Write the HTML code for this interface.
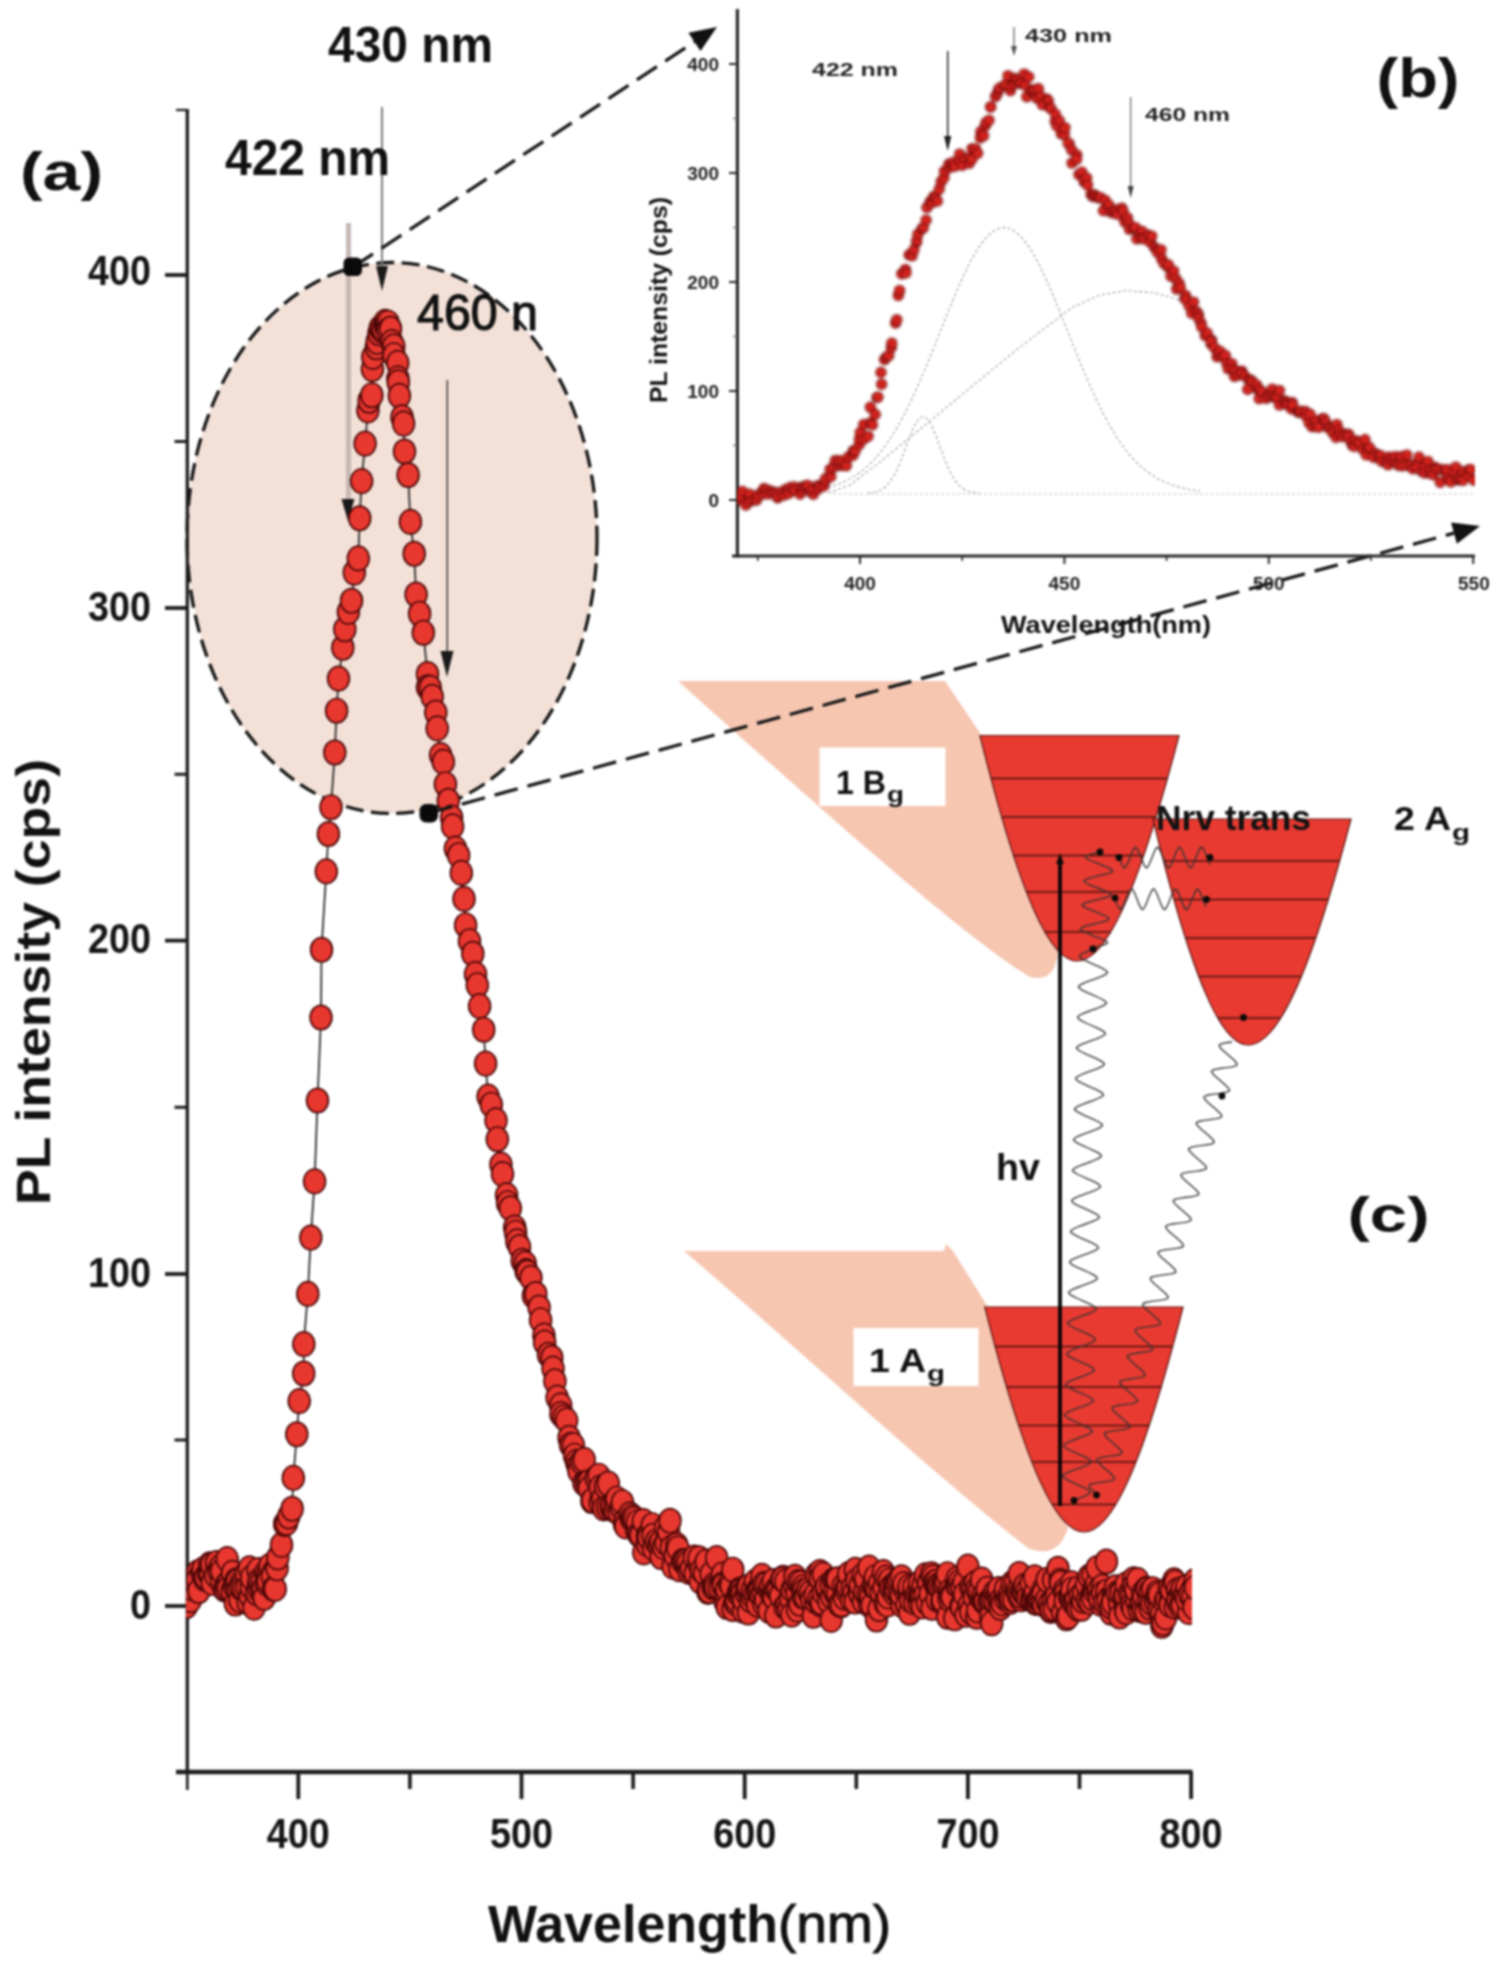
<!DOCTYPE html>
<html lang="en"><head><meta charset="utf-8"><title>PL spectrum figure</title>
<style>html,body{margin:0;padding:0;background:#fff}body{width:1499px;height:1969px;overflow:hidden}svg{display:block;filter:blur(0.9px)}text{font-family:"Liberation Sans",sans-serif;fill:#111}.b{font-weight:bold}.dv{font-family:"DejaVu Sans","Liberation Sans",sans-serif;font-weight:bold}.tk{font-size:42.5px;font-weight:bold;fill:#151515}.it{font-size:19px;font-weight:bold;fill:#222}</style></head><body>
<svg width="1499" height="1969" viewBox="0 0 1499 1969">
<defs><ellipse id="m" rx="10.9" ry="12.2" fill="#e8372f" stroke="#4a0707" stroke-width="1.7"/><circle id="s" r="5.0" fill="#d4231e" stroke="#6a0b0b" stroke-width="1.2"/><clipPath id="cm"><rect x="186" y="0" width="1006" height="1772"/></clipPath><filter id="bl" x="-5%" y="-5%" width="110%" height="110%"><feGaussianBlur stdDeviation="0.9"/></filter><clipPath id="ci"><rect x="737" y="0" width="738" height="556"/></clipPath></defs>
<rect width="1499" height="1969" fill="#fff"/>
<ellipse cx="392" cy="538" rx="205" ry="275.5" fill="#f3e1d8" stroke="#141414" stroke-width="3.3" stroke-dasharray="18 7.5"/>
<path d="M678,681 L945,681 L986,742 L1004,810 L1032,885 L1058,945 Q1058,984 1030,977 C960,935 800,790 678,681 Z" fill="#f6c6b1"/>
<path d="M684,1251 L944,1251 L946,1244 L953,1251 L991,1312 L1010,1395 L1040,1475 L1068,1528 Q1058,1560 1028,1548 C940,1480 800,1350 684,1251 Z" fill="#f6c6b1"/>
<g stroke="#1c1c1c" fill="none">
<line x1="187.3" y1="109" x2="187.3" y2="1774" stroke-width="3.3"/>
<line x1="176" y1="1772" x2="1192.5" y2="1772" stroke-width="4.6"/>
<line x1="176" y1="110" x2="187" y2="110" stroke-width="2.2"/>
<line x1="165" y1="275" x2="187" y2="275" stroke-width="3.8"/>
<line x1="165" y1="608" x2="187" y2="608" stroke-width="3.8"/>
<line x1="165" y1="940.6" x2="187" y2="940.6" stroke-width="3.8"/>
<line x1="165" y1="1274" x2="187" y2="1274" stroke-width="3.8"/>
<line x1="165" y1="1606" x2="187" y2="1606" stroke-width="3.8"/>
<line x1="174.5" y1="441.5" x2="187" y2="441.5" stroke-width="3"/>
<line x1="174.5" y1="774.3" x2="187" y2="774.3" stroke-width="3"/>
<line x1="174.5" y1="1107.3" x2="187" y2="1107.3" stroke-width="3"/>
<line x1="174.5" y1="1440" x2="187" y2="1440" stroke-width="3"/>
<line x1="298.3" y1="1772" x2="298.3" y2="1799" stroke-width="3.8"/>
<line x1="521.5" y1="1772" x2="521.5" y2="1799" stroke-width="3.8"/>
<line x1="744.7" y1="1772" x2="744.7" y2="1799" stroke-width="3.8"/>
<line x1="967.9" y1="1772" x2="967.9" y2="1799" stroke-width="3.8"/>
<line x1="1191.1" y1="1772" x2="1191.1" y2="1799" stroke-width="3.8"/>
<line x1="187.3" y1="1772" x2="187.3" y2="1790" stroke-width="2.6"/>
<line x1="409.9" y1="1772" x2="409.9" y2="1789" stroke-width="3.6"/>
<line x1="633.1" y1="1772" x2="633.1" y2="1789" stroke-width="3.6"/>
<line x1="856.3" y1="1772" x2="856.3" y2="1789" stroke-width="3.6"/>
<line x1="1079.5" y1="1772" x2="1079.5" y2="1789" stroke-width="3.6"/>
</g>
<text class="tk" x="88" y="284.5" textLength="63" lengthAdjust="spacingAndGlyphs">400</text>
<text class="tk" x="88" y="620.5" textLength="63" lengthAdjust="spacingAndGlyphs">300</text>
<text class="tk" x="88" y="952.5" textLength="63" lengthAdjust="spacingAndGlyphs">200</text>
<text class="tk" x="88" y="1286.5" textLength="63" lengthAdjust="spacingAndGlyphs">100</text>
<text class="tk" x="130" y="1618.5" textLength="21" lengthAdjust="spacingAndGlyphs">0</text>
<text class="tk" x="266.8" y="1847.5" textLength="63" lengthAdjust="spacingAndGlyphs">400</text>
<text class="tk" x="490" y="1847.5" textLength="63" lengthAdjust="spacingAndGlyphs">500</text>
<text class="tk" x="713.2" y="1847.5" textLength="63" lengthAdjust="spacingAndGlyphs">600</text>
<text class="tk" x="936.4" y="1847.5" textLength="63" lengthAdjust="spacingAndGlyphs">700</text>
<text class="tk" x="1159.6" y="1847.5" textLength="63" lengthAdjust="spacingAndGlyphs">800</text>
<text class="b" font-size="51" x="488" y="1942" textLength="290" lengthAdjust="spacingAndGlyphs">Wavelength</text>
<text font-size="51" x="778" y="1942" textLength="113" lengthAdjust="spacingAndGlyphs" stroke="#111" stroke-width="1">(nm)</text>
<text class="b" font-size="49" transform="translate(50,1205) rotate(-90)" textLength="446" lengthAdjust="spacingAndGlyphs">PL intensity (cps)</text>
<text class="b" font-size="54" x="20" y="190" textLength="83" lengthAdjust="spacingAndGlyphs">(a)</text>
<line x1="348.5" y1="223" x2="348.5" y2="505" stroke="#c6b8b4" stroke-width="5"/>
<path d="M341.5,499 L354.5,499 L348,521 Z" fill="#1a1a1a"/>
<line x1="382" y1="107" x2="382" y2="272" stroke="#7d7777" stroke-width="2"/>
<path d="M376,266 L388,266 L382,291 Z" fill="#1a1a1a"/>
<line x1="447.3" y1="380" x2="447.3" y2="655" stroke="#3c3636" stroke-width="1.5"/>
<path d="M440.5,651 L453.5,651 L447,677 Z" fill="#1a1a1a"/>
<g clip-path="url(#cm)">
<polyline fill="none" stroke="#222" stroke-width="1.7" points="186.4,1606 190.4,1600.1 191.5,1588.2 192.3,1579.4 194.7,1580.7 197.4,1572.6 197.3,1580.2 198.9,1591 201.9,1572.2 203,1569.6 204.8,1578.8 205.6,1576.9 208.7,1573.4 209.7,1564.4 210.5,1574.5 212.2,1582.9 211.8,1565.1 215.6,1575.1 216.6,1563 218.8,1570.4 220.7,1566.6 221.6,1582.3 221.7,1571.1 224.5,1589.4 224.8,1588.7 226.2,1585.3 227.2,1559.1 228.5,1582.5 228.1,1588.7 232.1,1591.2 232.5,1572.9 234.3,1585.7 236.1,1580.5 235.7,1582.4 235.4,1603.5 237.3,1581.5 238.2,1590 239.9,1600.1 241.5,1582.7 241,1587.7 244,1589.8 243.7,1588.8 246.3,1573.5 247.1,1588 248.1,1602.3 249.4,1568.4 250.2,1595.7 251.3,1586.8 251.6,1577.6 254.1,1607.6 256.7,1593 258,1570.1 258.6,1584.3 259.3,1589.7 259.3,1580.5 262.2,1590.2 262.1,1581.2 263.2,1589.3 264.2,1597.8 265.7,1573.1 266.4,1582.9 267.8,1574.9 268.2,1581.3 269.9,1565.8 273.2,1572.5 272.4,1576.5 273.5,1588.8 275.2,1588.9 277.1,1568.3 277.9,1557.5 281.5,1544.9 284.7,1524 286.5,1522.9 288.7,1516.5 292.1,1508.8 293.3,1477.9 296.8,1434.3 299.2,1401.1 303.7,1373.5 303.8,1344.1 307.8,1293.9 310.8,1237.6 314.6,1181.4 317.5,1100.5 321,1017.5 321.5,949.8 326.3,871.4 328.4,834 331,807.2 334.8,752.5 336.6,710.7 338.5,678.6 342.8,647.8 344.8,629.2 348.4,611.9 351.5,600.8 354.3,572.6 358.3,558.4 359.7,518.3 361.6,481.1 365.1,443.6 367.9,410.4 369.1,400.7 371.8,395.2 372.4,369.1 372.8,356.9 376.4,347.2 377.2,341.8 379,333.3 380.3,328 382.2,330.6 383.1,328.8 385.2,321.9 385.7,326 386.9,326.8 388,322.7 388,330.3 390.5,328.8 391.8,342.1 393.7,346.3 393.9,355.2 397.7,362.9 397.9,378.4 398.3,382.4 399.4,395.8 402,417.3 403.6,423.6 404.5,451.5 408.1,475 410.4,521.9 414.2,553.8 416.1,594.5 419.6,613.7 423.3,632.7 427.5,674 427.5,687.3 430.2,687.8 432.2,696.8 435.8,712.5 437.2,728.4 440.6,755.1 443.3,761.9 445.4,784.2 448.3,800.8 451.6,817.5 452.6,826.4 455.4,848.6 458.6,855.2 461.3,872.9 464,898.9 465.6,925.2 469.5,941.2 472.8,953.8 475.5,974.1 477.3,985.2 479.6,1006.1 483.7,1029.7 485.6,1063.6 488.1,1096.6 491.3,1104.7 496,1120.4 497.3,1139.2 500.9,1164.6 502.5,1174.1 506.6,1195.1 507.6,1203.2 510.3,1208.3 514.7,1227.5 515.6,1232.7 516.9,1241.4 519.5,1247 522.2,1260.8 525.2,1263.6 526.1,1271.1 527.4,1272.5 530.9,1277.8 533.4,1295.8 535.8,1294 539.1,1307.5 540.6,1320.2 543.9,1335.6 544.6,1342.5 548.5,1354.8 551.8,1357.8 553,1368.6 554.9,1381.3 557.1,1397.6 560.7,1405.4 560.9,1414 563.8,1417.2 566.6,1420.4 569.1,1437.8 570.5,1444.7 573.3,1445.2 574.6,1455.7 576.6,1461.9 578.1,1466.4 579,1471.2 581.6,1461.7 584,1483.3 584.2,1459.9 586.5,1482.8 588.9,1482.2 589.2,1488.6 591.9,1501 592.7,1500.2 596.1,1478 598.8,1475.7 600.2,1502.4 600.1,1487.6 602.6,1498.7 603.8,1508.4 605.5,1486.4 608.3,1483.5 607.7,1507.6 611.3,1507.2 612.2,1506 615,1510.3 615.7,1503.3 616.8,1498.7 619.2,1513.1 621.3,1507 622.4,1502.2 624.5,1524.2 625.4,1520.4 625.8,1526.4 629.9,1514.4 631.5,1518.7 632.7,1516.7 634.4,1518.9 636.8,1530.4 637.3,1522.2 638.8,1534.2 640.9,1535.2 643.8,1552.4 643.4,1521.1 647.2,1543.9 647.4,1535.8 648.7,1537.7 652.3,1525.2 652.9,1535.8 653.7,1548.4 656.1,1541.7 658.8,1544.5 660.8,1542.1 661.2,1557 663.5,1546.9 665.5,1527.4 666.1,1542.8 668.6,1531.8 670,1520.8 671.3,1547.8 673,1566.6 675.2,1555.5 676.8,1545.1 678,1548.4 679.9,1569.2 682.8,1561.1 683.8,1561.2 686,1561.4 688,1563.4 689.2,1571.8 692.2,1570.5 691.4,1568.4 694.4,1557.6 695.2,1573.5 698.7,1563.3 700.3,1581.3 699,1558.3 701.5,1570.3 704.5,1572.8 706.3,1561.6 708,1591.9 709,1590.9 711.2,1574 713,1587.2 714.1,1584.9 716.7,1558 715.8,1586.7 719.8,1585.1 719.6,1587.5 722.4,1574.6 722.6,1584.3 723.2,1585.8 725.3,1601.9 725.5,1592.5 726.6,1589 727.2,1607 729.6,1583.4 731.2,1585.7 732.8,1569.7 733,1609 735.1,1602.3 735.4,1602.1 736.5,1599.6 738.2,1593.4 739.7,1594.9 739.7,1589.8 741,1590.6 742.2,1593.8 743.5,1610.7 743.9,1599.9 746.6,1593 746.6,1587.2 748.4,1586.7 748.5,1612.5 750.6,1600 751.8,1595 752.3,1590.3 755.4,1581.6 755.2,1593.6 757.5,1604.5 758,1589.9 757.9,1591.8 759.2,1591.9 761,1595.6 761.9,1575.9 763,1591.3 763.9,1584.1 763.9,1603.9 766.3,1584.7 765.8,1600 769,1610.8 769.3,1589.5 770.5,1586 772,1595 773.6,1592.6 773.4,1581.1 774.3,1597.7 775.9,1615.5 776.3,1589.3 778.3,1589.8 781.5,1580.1 780.6,1595.7 783.1,1577.7 782.6,1579.2 785.1,1606.7 785.7,1581.5 787.1,1604.4 788.8,1609.5 790.9,1595 790.8,1598.4 791.8,1614.6 792.1,1589.9 794.5,1585.5 795,1576.8 797,1593 797.5,1609.6 800,1603.7 798.2,1582 800.7,1583.1 802.8,1587.3 803,1596.5 803.8,1591 805.3,1595.9 805.6,1597 807.9,1590.2 811,1593.3 811.1,1596.3 810.4,1593 811.8,1599.9 813.3,1615.7 815.6,1601 815.2,1594.9 816.5,1574.9 818.9,1598.8 820,1572 820.2,1578.2 820.8,1604.2 821.6,1602.5 823.4,1592.6 823.3,1574.6 826.8,1589.9 826.9,1586.3 828.9,1601.3 831.2,1619.9 831.8,1596.3 831.1,1584.7 833.8,1580 835.2,1592.7 834.9,1591.1 835.8,1579.7 837.7,1594.1 837.6,1579.4 841.2,1605.2 839.3,1604.4 841.5,1604.5 843.3,1586.3 844.5,1597.5 845.9,1589.9 847.2,1586.7 847.9,1587.1 850.2,1575.9 848.7,1574 851.5,1599.6 852.1,1588.1 854,1592.6 855.2,1601.5 855.4,1569.9 856.8,1580.7 859.1,1591.6 859.9,1594 860.2,1585.1 863.5,1601.2 864.9,1591.8 863,1575.4 865.6,1578.6 868.5,1598.6 868.3,1594.7 869,1567.6 869.8,1605 870.7,1596.5 872.1,1605.2 873,1585.5 875.1,1586.6 875.4,1577.2 876.5,1619.5 877,1588.5 879.1,1609 879.6,1583.5 881.3,1593 883.4,1572.1 884,1587.2 885.3,1603.1 886.3,1577.6 887.2,1604.6 888.2,1596.4 889.3,1580.7 891.3,1587.2 890.9,1587.9 894,1592.9 894.1,1587.5 894.7,1584.3 896,1590.6 897,1582.4 898.8,1579.6 899.3,1594.1 901.9,1604.9 901.5,1577.3 901.5,1595.1 903.9,1587.7 904,1584 906.7,1605.2 908.7,1589.5 909.6,1612.8 909.1,1586.6 910.7,1600.1 913.9,1593 913.9,1587 914.8,1602.4 916.8,1593.9 919.1,1602.6 919.3,1595.1 919.5,1583.1 920.8,1594.3 922.2,1596.1 922.4,1606.4 923.2,1584.9 925.2,1594.8 925.5,1575.4 927.4,1602.7 928.7,1582.7 931.6,1574.3 930.2,1594.3 932,1607.7 933.1,1577.4 934.7,1582.4 936.3,1586.3 936.3,1581.9 937.1,1599.2 937.6,1585.6 939.4,1586.6 941.7,1601.6 942.4,1586.3 942.7,1600 944.4,1583.9 945.9,1581.2 947.4,1574.2 947.7,1616.8 949.1,1591.8 949,1598.5 950.7,1595.5 954,1597.8 952.1,1596.8 954.8,1618.3 956.4,1584.6 957.1,1578.9 957.9,1585.4 959.6,1581.9 960.8,1606.1 961.9,1607.2 961.6,1586.9 964.1,1582.2 964.7,1594.4 966.1,1614.7 967.9,1566.6 969.4,1605.3 970.7,1587.1 970.8,1611.7 973,1587.6 974.4,1596.9 975.5,1583.1 976.9,1589.3 976.8,1616.7 977.9,1610.4 979.9,1596.5 979.3,1591.2 981.7,1579.6 982.2,1597 983.5,1601.2 983.6,1600.7 985.4,1600.6 987.2,1588.8 989.1,1601 990.3,1601.3 990.6,1616.6 991.7,1623.2 992.3,1600.1 994.5,1592.8 995.1,1600.8 996.9,1594.4 999,1592.8 998.7,1600.5 998.7,1589 1000.4,1607.8 1001,1599.5 1002.4,1603.4 1005.5,1598.2 1005.8,1591.7 1005.6,1589 1008.5,1596.9 1010.1,1593.1 1010,1601.9 1010.9,1599 1012.3,1583.1 1013.9,1599.4 1015.4,1583 1016.9,1591.1 1018.1,1594.6 1019.2,1574 1020.5,1598.7 1021.1,1599.2 1020.5,1595.5 1022.8,1592.3 1024.3,1592.8 1024.9,1585.7 1027.1,1593.7 1027.2,1590.4 1027.9,1597.7 1031,1582.8 1031.5,1599.3 1032.3,1598.2 1034,1594.9 1035.3,1591.4 1035.8,1602.9 1034.7,1577.4 1037.3,1601.9 1038.6,1599.4 1039.4,1599.9 1041.5,1601.1 1043.4,1589.3 1043.2,1593.9 1043.8,1604.3 1047.5,1602 1046.7,1599.5 1047.2,1579.8 1049.5,1603.5 1050.8,1610.9 1051.1,1609.1 1053.4,1600.3 1053.6,1579.8 1054.4,1608.6 1056.4,1596.2 1058,1568.8 1058,1602.3 1060,1580.9 1060.8,1583.1 1064.3,1590.8 1062.6,1612.7 1065.4,1593.8 1065.4,1601.2 1066.5,1618.2 1068.3,1616.4 1069.6,1596.8 1071.1,1595.1 1071.5,1583.3 1071.9,1589.7 1073.1,1602.5 1075.1,1602.1 1076.3,1598.6 1078.1,1608.7 1078.4,1588.2 1080.1,1596.3 1081.6,1605.1 1081.7,1603.3 1081.5,1608.7 1082.9,1600.7 1083.8,1592.4 1087.4,1599.9 1086.6,1584 1089.4,1576.5 1090.1,1601.8 1092.1,1594.3 1092.7,1598.3 1093,1575.1 1094,1590.2 1095.4,1587.3 1096.6,1584.1 1097.2,1568 1098.8,1589.9 1101.2,1603.9 1099.7,1597.9 1102.5,1586.5 1102.7,1593.2 1104.7,1602 1106.4,1561.5 1106.8,1591.7 1108.6,1599.4 1107.9,1601 1111.2,1612.7 1111,1606.3 1113.1,1596.9 1113.9,1596.8 1112.8,1602.5 1115.4,1587.3 1117.4,1593.2 1119.6,1604.2 1119.7,1616.5 1120.9,1592.3 1120.7,1593.8 1124.1,1596.8 1125.5,1610.2 1125.3,1594.6 1126.2,1612.1 1126.3,1584.3 1129.4,1593.5 1132,1593.6 1131.6,1605.2 1133.2,1608.4 1133.7,1579.3 1133.7,1586.4 1136.7,1601 1135.8,1589.8 1137.7,1580.1 1139.3,1609.8 1140.9,1603.8 1141.7,1604 1142.8,1593 1143,1610.5 1143.8,1596.1 1146,1611.7 1146.5,1588.7 1147.2,1589.5 1148.4,1601.8 1150.2,1591.5 1150.2,1607.5 1151.8,1602.8 1152.7,1589.2 1155.3,1600.7 1156.6,1595.9 1159.1,1610.5 1157.4,1592.7 1159.2,1594.9 1161.6,1613.9 1161.9,1625.7 1162.9,1622.9 1165.7,1600.6 1165.2,1602.3 1165.7,1617.4 1166.7,1598.3 1169.2,1588.4 1170.3,1600.9 1170.2,1604.7 1171.6,1589.9 1174,1580.4 1175.2,1582.7 1175.3,1606.8 1177.5,1590.4 1178.6,1597.4 1177.9,1601.5 1180.2,1606.1 1181.9,1595.1 1182.3,1604.6 1182.2,1588.7 1184.8,1594.7 1186.8,1587.1 1188.6,1611.9 1186.7,1598.6 1191.7,1590.5 1189.9,1595 1192.7,1596.6 1194.1,1607.3 1195,1581 1195.5,1587.5"/>
<use href="#m" x="186.4" y="1606"/>
<use href="#m" x="190.4" y="1600.1"/>
<use href="#m" x="191.5" y="1588.2"/>
<use href="#m" x="192.3" y="1579.4"/>
<use href="#m" x="194.7" y="1580.7"/>
<use href="#m" x="197.4" y="1572.6"/>
<use href="#m" x="197.3" y="1580.2"/>
<use href="#m" x="198.9" y="1591"/>
<use href="#m" x="201.9" y="1572.2"/>
<use href="#m" x="203" y="1569.6"/>
<use href="#m" x="204.8" y="1578.8"/>
<use href="#m" x="205.6" y="1576.9"/>
<use href="#m" x="208.7" y="1573.4"/>
<use href="#m" x="209.7" y="1564.4"/>
<use href="#m" x="210.5" y="1574.5"/>
<use href="#m" x="212.2" y="1582.9"/>
<use href="#m" x="211.8" y="1565.1"/>
<use href="#m" x="215.6" y="1575.1"/>
<use href="#m" x="216.6" y="1563"/>
<use href="#m" x="218.8" y="1570.4"/>
<use href="#m" x="220.7" y="1566.6"/>
<use href="#m" x="221.6" y="1582.3"/>
<use href="#m" x="221.7" y="1571.1"/>
<use href="#m" x="224.5" y="1589.4"/>
<use href="#m" x="224.8" y="1588.7"/>
<use href="#m" x="226.2" y="1585.3"/>
<use href="#m" x="227.2" y="1559.1"/>
<use href="#m" x="228.5" y="1582.5"/>
<use href="#m" x="228.1" y="1588.7"/>
<use href="#m" x="232.1" y="1591.2"/>
<use href="#m" x="232.5" y="1572.9"/>
<use href="#m" x="234.3" y="1585.7"/>
<use href="#m" x="236.1" y="1580.5"/>
<use href="#m" x="235.7" y="1582.4"/>
<use href="#m" x="235.4" y="1603.5"/>
<use href="#m" x="237.3" y="1581.5"/>
<use href="#m" x="238.2" y="1590"/>
<use href="#m" x="239.9" y="1600.1"/>
<use href="#m" x="241.5" y="1582.7"/>
<use href="#m" x="241" y="1587.7"/>
<use href="#m" x="244" y="1589.8"/>
<use href="#m" x="243.7" y="1588.8"/>
<use href="#m" x="246.3" y="1573.5"/>
<use href="#m" x="247.1" y="1588"/>
<use href="#m" x="248.1" y="1602.3"/>
<use href="#m" x="249.4" y="1568.4"/>
<use href="#m" x="250.2" y="1595.7"/>
<use href="#m" x="251.3" y="1586.8"/>
<use href="#m" x="251.6" y="1577.6"/>
<use href="#m" x="254.1" y="1607.6"/>
<use href="#m" x="256.7" y="1593"/>
<use href="#m" x="258" y="1570.1"/>
<use href="#m" x="258.6" y="1584.3"/>
<use href="#m" x="259.3" y="1589.7"/>
<use href="#m" x="259.3" y="1580.5"/>
<use href="#m" x="262.2" y="1590.2"/>
<use href="#m" x="262.1" y="1581.2"/>
<use href="#m" x="263.2" y="1589.3"/>
<use href="#m" x="264.2" y="1597.8"/>
<use href="#m" x="265.7" y="1573.1"/>
<use href="#m" x="266.4" y="1582.9"/>
<use href="#m" x="267.8" y="1574.9"/>
<use href="#m" x="268.2" y="1581.3"/>
<use href="#m" x="269.9" y="1565.8"/>
<use href="#m" x="273.2" y="1572.5"/>
<use href="#m" x="272.4" y="1576.5"/>
<use href="#m" x="273.5" y="1588.8"/>
<use href="#m" x="275.2" y="1588.9"/>
<use href="#m" x="277.1" y="1568.3"/>
<use href="#m" x="277.9" y="1557.5"/>
<use href="#m" x="281.5" y="1544.9"/>
<use href="#m" x="284.7" y="1524"/>
<use href="#m" x="286.5" y="1522.9"/>
<use href="#m" x="288.7" y="1516.5"/>
<use href="#m" x="292.1" y="1508.8"/>
<use href="#m" x="293.3" y="1477.9"/>
<use href="#m" x="296.8" y="1434.3"/>
<use href="#m" x="299.2" y="1401.1"/>
<use href="#m" x="303.7" y="1373.5"/>
<use href="#m" x="303.8" y="1344.1"/>
<use href="#m" x="307.8" y="1293.9"/>
<use href="#m" x="310.8" y="1237.6"/>
<use href="#m" x="314.6" y="1181.4"/>
<use href="#m" x="317.5" y="1100.5"/>
<use href="#m" x="321" y="1017.5"/>
<use href="#m" x="321.5" y="949.8"/>
<use href="#m" x="326.3" y="871.4"/>
<use href="#m" x="328.4" y="834"/>
<use href="#m" x="331" y="807.2"/>
<use href="#m" x="334.8" y="752.5"/>
<use href="#m" x="336.6" y="710.7"/>
<use href="#m" x="338.5" y="678.6"/>
<use href="#m" x="342.8" y="647.8"/>
<use href="#m" x="344.8" y="629.2"/>
<use href="#m" x="348.4" y="611.9"/>
<use href="#m" x="351.5" y="600.8"/>
<use href="#m" x="354.3" y="572.6"/>
<use href="#m" x="358.3" y="558.4"/>
<use href="#m" x="359.7" y="518.3"/>
<use href="#m" x="361.6" y="481.1"/>
<use href="#m" x="365.1" y="443.6"/>
<use href="#m" x="367.9" y="410.4"/>
<use href="#m" x="369.1" y="400.7"/>
<use href="#m" x="371.8" y="395.2"/>
<use href="#m" x="372.4" y="369.1"/>
<use href="#m" x="372.8" y="356.9"/>
<use href="#m" x="376.4" y="347.2"/>
<use href="#m" x="377.2" y="341.8"/>
<use href="#m" x="379" y="333.3"/>
<use href="#m" x="380.3" y="328"/>
<use href="#m" x="382.2" y="330.6"/>
<use href="#m" x="383.1" y="328.8"/>
<use href="#m" x="385.2" y="321.9"/>
<use href="#m" x="385.7" y="326"/>
<use href="#m" x="386.9" y="326.8"/>
<use href="#m" x="388" y="322.7"/>
<use href="#m" x="388" y="330.3"/>
<use href="#m" x="390.5" y="328.8"/>
<use href="#m" x="391.8" y="342.1"/>
<use href="#m" x="393.7" y="346.3"/>
<use href="#m" x="393.9" y="355.2"/>
<use href="#m" x="397.7" y="362.9"/>
<use href="#m" x="397.9" y="378.4"/>
<use href="#m" x="398.3" y="382.4"/>
<use href="#m" x="399.4" y="395.8"/>
<use href="#m" x="402" y="417.3"/>
<use href="#m" x="403.6" y="423.6"/>
<use href="#m" x="404.5" y="451.5"/>
<use href="#m" x="408.1" y="475"/>
<use href="#m" x="410.4" y="521.9"/>
<use href="#m" x="414.2" y="553.8"/>
<use href="#m" x="416.1" y="594.5"/>
<use href="#m" x="419.6" y="613.7"/>
<use href="#m" x="423.3" y="632.7"/>
<use href="#m" x="427.5" y="674"/>
<use href="#m" x="427.5" y="687.3"/>
<use href="#m" x="430.2" y="687.8"/>
<use href="#m" x="432.2" y="696.8"/>
<use href="#m" x="435.8" y="712.5"/>
<use href="#m" x="437.2" y="728.4"/>
<use href="#m" x="440.6" y="755.1"/>
<use href="#m" x="443.3" y="761.9"/>
<use href="#m" x="445.4" y="784.2"/>
<use href="#m" x="448.3" y="800.8"/>
<use href="#m" x="451.6" y="817.5"/>
<use href="#m" x="452.6" y="826.4"/>
<use href="#m" x="455.4" y="848.6"/>
<use href="#m" x="458.6" y="855.2"/>
<use href="#m" x="461.3" y="872.9"/>
<use href="#m" x="464" y="898.9"/>
<use href="#m" x="465.6" y="925.2"/>
<use href="#m" x="469.5" y="941.2"/>
<use href="#m" x="472.8" y="953.8"/>
<use href="#m" x="475.5" y="974.1"/>
<use href="#m" x="477.3" y="985.2"/>
<use href="#m" x="479.6" y="1006.1"/>
<use href="#m" x="483.7" y="1029.7"/>
<use href="#m" x="485.6" y="1063.6"/>
<use href="#m" x="488.1" y="1096.6"/>
<use href="#m" x="491.3" y="1104.7"/>
<use href="#m" x="496" y="1120.4"/>
<use href="#m" x="497.3" y="1139.2"/>
<use href="#m" x="500.9" y="1164.6"/>
<use href="#m" x="502.5" y="1174.1"/>
<use href="#m" x="506.6" y="1195.1"/>
<use href="#m" x="507.6" y="1203.2"/>
<use href="#m" x="510.3" y="1208.3"/>
<use href="#m" x="514.7" y="1227.5"/>
<use href="#m" x="515.6" y="1232.7"/>
<use href="#m" x="516.9" y="1241.4"/>
<use href="#m" x="519.5" y="1247"/>
<use href="#m" x="522.2" y="1260.8"/>
<use href="#m" x="525.2" y="1263.6"/>
<use href="#m" x="526.1" y="1271.1"/>
<use href="#m" x="527.4" y="1272.5"/>
<use href="#m" x="530.9" y="1277.8"/>
<use href="#m" x="533.4" y="1295.8"/>
<use href="#m" x="535.8" y="1294"/>
<use href="#m" x="539.1" y="1307.5"/>
<use href="#m" x="540.6" y="1320.2"/>
<use href="#m" x="543.9" y="1335.6"/>
<use href="#m" x="544.6" y="1342.5"/>
<use href="#m" x="548.5" y="1354.8"/>
<use href="#m" x="551.8" y="1357.8"/>
<use href="#m" x="553" y="1368.6"/>
<use href="#m" x="554.9" y="1381.3"/>
<use href="#m" x="557.1" y="1397.6"/>
<use href="#m" x="560.7" y="1405.4"/>
<use href="#m" x="560.9" y="1414"/>
<use href="#m" x="563.8" y="1417.2"/>
<use href="#m" x="566.6" y="1420.4"/>
<use href="#m" x="569.1" y="1437.8"/>
<use href="#m" x="570.5" y="1444.7"/>
<use href="#m" x="573.3" y="1445.2"/>
<use href="#m" x="574.6" y="1455.7"/>
<use href="#m" x="576.6" y="1461.9"/>
<use href="#m" x="578.1" y="1466.4"/>
<use href="#m" x="579" y="1471.2"/>
<use href="#m" x="581.6" y="1461.7"/>
<use href="#m" x="584" y="1483.3"/>
<use href="#m" x="584.2" y="1459.9"/>
<use href="#m" x="586.5" y="1482.8"/>
<use href="#m" x="588.9" y="1482.2"/>
<use href="#m" x="589.2" y="1488.6"/>
<use href="#m" x="591.9" y="1501"/>
<use href="#m" x="592.7" y="1500.2"/>
<use href="#m" x="596.1" y="1478"/>
<use href="#m" x="598.8" y="1475.7"/>
<use href="#m" x="600.2" y="1502.4"/>
<use href="#m" x="600.1" y="1487.6"/>
<use href="#m" x="602.6" y="1498.7"/>
<use href="#m" x="603.8" y="1508.4"/>
<use href="#m" x="605.5" y="1486.4"/>
<use href="#m" x="608.3" y="1483.5"/>
<use href="#m" x="607.7" y="1507.6"/>
<use href="#m" x="611.3" y="1507.2"/>
<use href="#m" x="612.2" y="1506"/>
<use href="#m" x="615" y="1510.3"/>
<use href="#m" x="615.7" y="1503.3"/>
<use href="#m" x="616.8" y="1498.7"/>
<use href="#m" x="619.2" y="1513.1"/>
<use href="#m" x="621.3" y="1507"/>
<use href="#m" x="622.4" y="1502.2"/>
<use href="#m" x="624.5" y="1524.2"/>
<use href="#m" x="625.4" y="1520.4"/>
<use href="#m" x="625.8" y="1526.4"/>
<use href="#m" x="629.9" y="1514.4"/>
<use href="#m" x="631.5" y="1518.7"/>
<use href="#m" x="632.7" y="1516.7"/>
<use href="#m" x="634.4" y="1518.9"/>
<use href="#m" x="636.8" y="1530.4"/>
<use href="#m" x="637.3" y="1522.2"/>
<use href="#m" x="638.8" y="1534.2"/>
<use href="#m" x="640.9" y="1535.2"/>
<use href="#m" x="643.8" y="1552.4"/>
<use href="#m" x="643.4" y="1521.1"/>
<use href="#m" x="647.2" y="1543.9"/>
<use href="#m" x="647.4" y="1535.8"/>
<use href="#m" x="648.7" y="1537.7"/>
<use href="#m" x="652.3" y="1525.2"/>
<use href="#m" x="652.9" y="1535.8"/>
<use href="#m" x="653.7" y="1548.4"/>
<use href="#m" x="656.1" y="1541.7"/>
<use href="#m" x="658.8" y="1544.5"/>
<use href="#m" x="660.8" y="1542.1"/>
<use href="#m" x="661.2" y="1557"/>
<use href="#m" x="663.5" y="1546.9"/>
<use href="#m" x="665.5" y="1527.4"/>
<use href="#m" x="666.1" y="1542.8"/>
<use href="#m" x="668.6" y="1531.8"/>
<use href="#m" x="670" y="1520.8"/>
<use href="#m" x="671.3" y="1547.8"/>
<use href="#m" x="673" y="1566.6"/>
<use href="#m" x="675.2" y="1555.5"/>
<use href="#m" x="676.8" y="1545.1"/>
<use href="#m" x="678" y="1548.4"/>
<use href="#m" x="679.9" y="1569.2"/>
<use href="#m" x="682.8" y="1561.1"/>
<use href="#m" x="683.8" y="1561.2"/>
<use href="#m" x="686" y="1561.4"/>
<use href="#m" x="688" y="1563.4"/>
<use href="#m" x="689.2" y="1571.8"/>
<use href="#m" x="692.2" y="1570.5"/>
<use href="#m" x="691.4" y="1568.4"/>
<use href="#m" x="694.4" y="1557.6"/>
<use href="#m" x="695.2" y="1573.5"/>
<use href="#m" x="698.7" y="1563.3"/>
<use href="#m" x="700.3" y="1581.3"/>
<use href="#m" x="699" y="1558.3"/>
<use href="#m" x="701.5" y="1570.3"/>
<use href="#m" x="704.5" y="1572.8"/>
<use href="#m" x="706.3" y="1561.6"/>
<use href="#m" x="708" y="1591.9"/>
<use href="#m" x="709" y="1590.9"/>
<use href="#m" x="711.2" y="1574"/>
<use href="#m" x="713" y="1587.2"/>
<use href="#m" x="714.1" y="1584.9"/>
<use href="#m" x="716.7" y="1558"/>
<use href="#m" x="715.8" y="1586.7"/>
<use href="#m" x="719.8" y="1585.1"/>
<use href="#m" x="719.6" y="1587.5"/>
<use href="#m" x="722.4" y="1574.6"/>
<use href="#m" x="722.6" y="1584.3"/>
<use href="#m" x="723.2" y="1585.8"/>
<use href="#m" x="725.3" y="1601.9"/>
<use href="#m" x="725.5" y="1592.5"/>
<use href="#m" x="726.6" y="1589"/>
<use href="#m" x="727.2" y="1607"/>
<use href="#m" x="729.6" y="1583.4"/>
<use href="#m" x="731.2" y="1585.7"/>
<use href="#m" x="732.8" y="1569.7"/>
<use href="#m" x="733" y="1609"/>
<use href="#m" x="735.1" y="1602.3"/>
<use href="#m" x="735.4" y="1602.1"/>
<use href="#m" x="736.5" y="1599.6"/>
<use href="#m" x="738.2" y="1593.4"/>
<use href="#m" x="739.7" y="1594.9"/>
<use href="#m" x="739.7" y="1589.8"/>
<use href="#m" x="741" y="1590.6"/>
<use href="#m" x="742.2" y="1593.8"/>
<use href="#m" x="743.5" y="1610.7"/>
<use href="#m" x="743.9" y="1599.9"/>
<use href="#m" x="746.6" y="1593"/>
<use href="#m" x="746.6" y="1587.2"/>
<use href="#m" x="748.4" y="1586.7"/>
<use href="#m" x="748.5" y="1612.5"/>
<use href="#m" x="750.6" y="1600"/>
<use href="#m" x="751.8" y="1595"/>
<use href="#m" x="752.3" y="1590.3"/>
<use href="#m" x="755.4" y="1581.6"/>
<use href="#m" x="755.2" y="1593.6"/>
<use href="#m" x="757.5" y="1604.5"/>
<use href="#m" x="758" y="1589.9"/>
<use href="#m" x="757.9" y="1591.8"/>
<use href="#m" x="759.2" y="1591.9"/>
<use href="#m" x="761" y="1595.6"/>
<use href="#m" x="761.9" y="1575.9"/>
<use href="#m" x="763" y="1591.3"/>
<use href="#m" x="763.9" y="1584.1"/>
<use href="#m" x="763.9" y="1603.9"/>
<use href="#m" x="766.3" y="1584.7"/>
<use href="#m" x="765.8" y="1600"/>
<use href="#m" x="769" y="1610.8"/>
<use href="#m" x="769.3" y="1589.5"/>
<use href="#m" x="770.5" y="1586"/>
<use href="#m" x="772" y="1595"/>
<use href="#m" x="773.6" y="1592.6"/>
<use href="#m" x="773.4" y="1581.1"/>
<use href="#m" x="774.3" y="1597.7"/>
<use href="#m" x="775.9" y="1615.5"/>
<use href="#m" x="776.3" y="1589.3"/>
<use href="#m" x="778.3" y="1589.8"/>
<use href="#m" x="781.5" y="1580.1"/>
<use href="#m" x="780.6" y="1595.7"/>
<use href="#m" x="783.1" y="1577.7"/>
<use href="#m" x="782.6" y="1579.2"/>
<use href="#m" x="785.1" y="1606.7"/>
<use href="#m" x="785.7" y="1581.5"/>
<use href="#m" x="787.1" y="1604.4"/>
<use href="#m" x="788.8" y="1609.5"/>
<use href="#m" x="790.9" y="1595"/>
<use href="#m" x="790.8" y="1598.4"/>
<use href="#m" x="791.8" y="1614.6"/>
<use href="#m" x="792.1" y="1589.9"/>
<use href="#m" x="794.5" y="1585.5"/>
<use href="#m" x="795" y="1576.8"/>
<use href="#m" x="797" y="1593"/>
<use href="#m" x="797.5" y="1609.6"/>
<use href="#m" x="800" y="1603.7"/>
<use href="#m" x="798.2" y="1582"/>
<use href="#m" x="800.7" y="1583.1"/>
<use href="#m" x="802.8" y="1587.3"/>
<use href="#m" x="803" y="1596.5"/>
<use href="#m" x="803.8" y="1591"/>
<use href="#m" x="805.3" y="1595.9"/>
<use href="#m" x="805.6" y="1597"/>
<use href="#m" x="807.9" y="1590.2"/>
<use href="#m" x="811" y="1593.3"/>
<use href="#m" x="811.1" y="1596.3"/>
<use href="#m" x="810.4" y="1593"/>
<use href="#m" x="811.8" y="1599.9"/>
<use href="#m" x="813.3" y="1615.7"/>
<use href="#m" x="815.6" y="1601"/>
<use href="#m" x="815.2" y="1594.9"/>
<use href="#m" x="816.5" y="1574.9"/>
<use href="#m" x="818.9" y="1598.8"/>
<use href="#m" x="820" y="1572"/>
<use href="#m" x="820.2" y="1578.2"/>
<use href="#m" x="820.8" y="1604.2"/>
<use href="#m" x="821.6" y="1602.5"/>
<use href="#m" x="823.4" y="1592.6"/>
<use href="#m" x="823.3" y="1574.6"/>
<use href="#m" x="826.8" y="1589.9"/>
<use href="#m" x="826.9" y="1586.3"/>
<use href="#m" x="828.9" y="1601.3"/>
<use href="#m" x="831.2" y="1619.9"/>
<use href="#m" x="831.8" y="1596.3"/>
<use href="#m" x="831.1" y="1584.7"/>
<use href="#m" x="833.8" y="1580"/>
<use href="#m" x="835.2" y="1592.7"/>
<use href="#m" x="834.9" y="1591.1"/>
<use href="#m" x="835.8" y="1579.7"/>
<use href="#m" x="837.7" y="1594.1"/>
<use href="#m" x="837.6" y="1579.4"/>
<use href="#m" x="841.2" y="1605.2"/>
<use href="#m" x="839.3" y="1604.4"/>
<use href="#m" x="841.5" y="1604.5"/>
<use href="#m" x="843.3" y="1586.3"/>
<use href="#m" x="844.5" y="1597.5"/>
<use href="#m" x="845.9" y="1589.9"/>
<use href="#m" x="847.2" y="1586.7"/>
<use href="#m" x="847.9" y="1587.1"/>
<use href="#m" x="850.2" y="1575.9"/>
<use href="#m" x="848.7" y="1574"/>
<use href="#m" x="851.5" y="1599.6"/>
<use href="#m" x="852.1" y="1588.1"/>
<use href="#m" x="854" y="1592.6"/>
<use href="#m" x="855.2" y="1601.5"/>
<use href="#m" x="855.4" y="1569.9"/>
<use href="#m" x="856.8" y="1580.7"/>
<use href="#m" x="859.1" y="1591.6"/>
<use href="#m" x="859.9" y="1594"/>
<use href="#m" x="860.2" y="1585.1"/>
<use href="#m" x="863.5" y="1601.2"/>
<use href="#m" x="864.9" y="1591.8"/>
<use href="#m" x="863" y="1575.4"/>
<use href="#m" x="865.6" y="1578.6"/>
<use href="#m" x="868.5" y="1598.6"/>
<use href="#m" x="868.3" y="1594.7"/>
<use href="#m" x="869" y="1567.6"/>
<use href="#m" x="869.8" y="1605"/>
<use href="#m" x="870.7" y="1596.5"/>
<use href="#m" x="872.1" y="1605.2"/>
<use href="#m" x="873" y="1585.5"/>
<use href="#m" x="875.1" y="1586.6"/>
<use href="#m" x="875.4" y="1577.2"/>
<use href="#m" x="876.5" y="1619.5"/>
<use href="#m" x="877" y="1588.5"/>
<use href="#m" x="879.1" y="1609"/>
<use href="#m" x="879.6" y="1583.5"/>
<use href="#m" x="881.3" y="1593"/>
<use href="#m" x="883.4" y="1572.1"/>
<use href="#m" x="884" y="1587.2"/>
<use href="#m" x="885.3" y="1603.1"/>
<use href="#m" x="886.3" y="1577.6"/>
<use href="#m" x="887.2" y="1604.6"/>
<use href="#m" x="888.2" y="1596.4"/>
<use href="#m" x="889.3" y="1580.7"/>
<use href="#m" x="891.3" y="1587.2"/>
<use href="#m" x="890.9" y="1587.9"/>
<use href="#m" x="894" y="1592.9"/>
<use href="#m" x="894.1" y="1587.5"/>
<use href="#m" x="894.7" y="1584.3"/>
<use href="#m" x="896" y="1590.6"/>
<use href="#m" x="897" y="1582.4"/>
<use href="#m" x="898.8" y="1579.6"/>
<use href="#m" x="899.3" y="1594.1"/>
<use href="#m" x="901.9" y="1604.9"/>
<use href="#m" x="901.5" y="1577.3"/>
<use href="#m" x="901.5" y="1595.1"/>
<use href="#m" x="903.9" y="1587.7"/>
<use href="#m" x="904" y="1584"/>
<use href="#m" x="906.7" y="1605.2"/>
<use href="#m" x="908.7" y="1589.5"/>
<use href="#m" x="909.6" y="1612.8"/>
<use href="#m" x="909.1" y="1586.6"/>
<use href="#m" x="910.7" y="1600.1"/>
<use href="#m" x="913.9" y="1593"/>
<use href="#m" x="913.9" y="1587"/>
<use href="#m" x="914.8" y="1602.4"/>
<use href="#m" x="916.8" y="1593.9"/>
<use href="#m" x="919.1" y="1602.6"/>
<use href="#m" x="919.3" y="1595.1"/>
<use href="#m" x="919.5" y="1583.1"/>
<use href="#m" x="920.8" y="1594.3"/>
<use href="#m" x="922.2" y="1596.1"/>
<use href="#m" x="922.4" y="1606.4"/>
<use href="#m" x="923.2" y="1584.9"/>
<use href="#m" x="925.2" y="1594.8"/>
<use href="#m" x="925.5" y="1575.4"/>
<use href="#m" x="927.4" y="1602.7"/>
<use href="#m" x="928.7" y="1582.7"/>
<use href="#m" x="931.6" y="1574.3"/>
<use href="#m" x="930.2" y="1594.3"/>
<use href="#m" x="932" y="1607.7"/>
<use href="#m" x="933.1" y="1577.4"/>
<use href="#m" x="934.7" y="1582.4"/>
<use href="#m" x="936.3" y="1586.3"/>
<use href="#m" x="936.3" y="1581.9"/>
<use href="#m" x="937.1" y="1599.2"/>
<use href="#m" x="937.6" y="1585.6"/>
<use href="#m" x="939.4" y="1586.6"/>
<use href="#m" x="941.7" y="1601.6"/>
<use href="#m" x="942.4" y="1586.3"/>
<use href="#m" x="942.7" y="1600"/>
<use href="#m" x="944.4" y="1583.9"/>
<use href="#m" x="945.9" y="1581.2"/>
<use href="#m" x="947.4" y="1574.2"/>
<use href="#m" x="947.7" y="1616.8"/>
<use href="#m" x="949.1" y="1591.8"/>
<use href="#m" x="949" y="1598.5"/>
<use href="#m" x="950.7" y="1595.5"/>
<use href="#m" x="954" y="1597.8"/>
<use href="#m" x="952.1" y="1596.8"/>
<use href="#m" x="954.8" y="1618.3"/>
<use href="#m" x="956.4" y="1584.6"/>
<use href="#m" x="957.1" y="1578.9"/>
<use href="#m" x="957.9" y="1585.4"/>
<use href="#m" x="959.6" y="1581.9"/>
<use href="#m" x="960.8" y="1606.1"/>
<use href="#m" x="961.9" y="1607.2"/>
<use href="#m" x="961.6" y="1586.9"/>
<use href="#m" x="964.1" y="1582.2"/>
<use href="#m" x="964.7" y="1594.4"/>
<use href="#m" x="966.1" y="1614.7"/>
<use href="#m" x="967.9" y="1566.6"/>
<use href="#m" x="969.4" y="1605.3"/>
<use href="#m" x="970.7" y="1587.1"/>
<use href="#m" x="970.8" y="1611.7"/>
<use href="#m" x="973" y="1587.6"/>
<use href="#m" x="974.4" y="1596.9"/>
<use href="#m" x="975.5" y="1583.1"/>
<use href="#m" x="976.9" y="1589.3"/>
<use href="#m" x="976.8" y="1616.7"/>
<use href="#m" x="977.9" y="1610.4"/>
<use href="#m" x="979.9" y="1596.5"/>
<use href="#m" x="979.3" y="1591.2"/>
<use href="#m" x="981.7" y="1579.6"/>
<use href="#m" x="982.2" y="1597"/>
<use href="#m" x="983.5" y="1601.2"/>
<use href="#m" x="983.6" y="1600.7"/>
<use href="#m" x="985.4" y="1600.6"/>
<use href="#m" x="987.2" y="1588.8"/>
<use href="#m" x="989.1" y="1601"/>
<use href="#m" x="990.3" y="1601.3"/>
<use href="#m" x="990.6" y="1616.6"/>
<use href="#m" x="991.7" y="1623.2"/>
<use href="#m" x="992.3" y="1600.1"/>
<use href="#m" x="994.5" y="1592.8"/>
<use href="#m" x="995.1" y="1600.8"/>
<use href="#m" x="996.9" y="1594.4"/>
<use href="#m" x="999" y="1592.8"/>
<use href="#m" x="998.7" y="1600.5"/>
<use href="#m" x="998.7" y="1589"/>
<use href="#m" x="1000.4" y="1607.8"/>
<use href="#m" x="1001" y="1599.5"/>
<use href="#m" x="1002.4" y="1603.4"/>
<use href="#m" x="1005.5" y="1598.2"/>
<use href="#m" x="1005.8" y="1591.7"/>
<use href="#m" x="1005.6" y="1589"/>
<use href="#m" x="1008.5" y="1596.9"/>
<use href="#m" x="1010.1" y="1593.1"/>
<use href="#m" x="1010" y="1601.9"/>
<use href="#m" x="1010.9" y="1599"/>
<use href="#m" x="1012.3" y="1583.1"/>
<use href="#m" x="1013.9" y="1599.4"/>
<use href="#m" x="1015.4" y="1583"/>
<use href="#m" x="1016.9" y="1591.1"/>
<use href="#m" x="1018.1" y="1594.6"/>
<use href="#m" x="1019.2" y="1574"/>
<use href="#m" x="1020.5" y="1598.7"/>
<use href="#m" x="1021.1" y="1599.2"/>
<use href="#m" x="1020.5" y="1595.5"/>
<use href="#m" x="1022.8" y="1592.3"/>
<use href="#m" x="1024.3" y="1592.8"/>
<use href="#m" x="1024.9" y="1585.7"/>
<use href="#m" x="1027.1" y="1593.7"/>
<use href="#m" x="1027.2" y="1590.4"/>
<use href="#m" x="1027.9" y="1597.7"/>
<use href="#m" x="1031" y="1582.8"/>
<use href="#m" x="1031.5" y="1599.3"/>
<use href="#m" x="1032.3" y="1598.2"/>
<use href="#m" x="1034" y="1594.9"/>
<use href="#m" x="1035.3" y="1591.4"/>
<use href="#m" x="1035.8" y="1602.9"/>
<use href="#m" x="1034.7" y="1577.4"/>
<use href="#m" x="1037.3" y="1601.9"/>
<use href="#m" x="1038.6" y="1599.4"/>
<use href="#m" x="1039.4" y="1599.9"/>
<use href="#m" x="1041.5" y="1601.1"/>
<use href="#m" x="1043.4" y="1589.3"/>
<use href="#m" x="1043.2" y="1593.9"/>
<use href="#m" x="1043.8" y="1604.3"/>
<use href="#m" x="1047.5" y="1602"/>
<use href="#m" x="1046.7" y="1599.5"/>
<use href="#m" x="1047.2" y="1579.8"/>
<use href="#m" x="1049.5" y="1603.5"/>
<use href="#m" x="1050.8" y="1610.9"/>
<use href="#m" x="1051.1" y="1609.1"/>
<use href="#m" x="1053.4" y="1600.3"/>
<use href="#m" x="1053.6" y="1579.8"/>
<use href="#m" x="1054.4" y="1608.6"/>
<use href="#m" x="1056.4" y="1596.2"/>
<use href="#m" x="1058" y="1568.8"/>
<use href="#m" x="1058" y="1602.3"/>
<use href="#m" x="1060" y="1580.9"/>
<use href="#m" x="1060.8" y="1583.1"/>
<use href="#m" x="1064.3" y="1590.8"/>
<use href="#m" x="1062.6" y="1612.7"/>
<use href="#m" x="1065.4" y="1593.8"/>
<use href="#m" x="1065.4" y="1601.2"/>
<use href="#m" x="1066.5" y="1618.2"/>
<use href="#m" x="1068.3" y="1616.4"/>
<use href="#m" x="1069.6" y="1596.8"/>
<use href="#m" x="1071.1" y="1595.1"/>
<use href="#m" x="1071.5" y="1583.3"/>
<use href="#m" x="1071.9" y="1589.7"/>
<use href="#m" x="1073.1" y="1602.5"/>
<use href="#m" x="1075.1" y="1602.1"/>
<use href="#m" x="1076.3" y="1598.6"/>
<use href="#m" x="1078.1" y="1608.7"/>
<use href="#m" x="1078.4" y="1588.2"/>
<use href="#m" x="1080.1" y="1596.3"/>
<use href="#m" x="1081.6" y="1605.1"/>
<use href="#m" x="1081.7" y="1603.3"/>
<use href="#m" x="1081.5" y="1608.7"/>
<use href="#m" x="1082.9" y="1600.7"/>
<use href="#m" x="1083.8" y="1592.4"/>
<use href="#m" x="1087.4" y="1599.9"/>
<use href="#m" x="1086.6" y="1584"/>
<use href="#m" x="1089.4" y="1576.5"/>
<use href="#m" x="1090.1" y="1601.8"/>
<use href="#m" x="1092.1" y="1594.3"/>
<use href="#m" x="1092.7" y="1598.3"/>
<use href="#m" x="1093" y="1575.1"/>
<use href="#m" x="1094" y="1590.2"/>
<use href="#m" x="1095.4" y="1587.3"/>
<use href="#m" x="1096.6" y="1584.1"/>
<use href="#m" x="1097.2" y="1568"/>
<use href="#m" x="1098.8" y="1589.9"/>
<use href="#m" x="1101.2" y="1603.9"/>
<use href="#m" x="1099.7" y="1597.9"/>
<use href="#m" x="1102.5" y="1586.5"/>
<use href="#m" x="1102.7" y="1593.2"/>
<use href="#m" x="1104.7" y="1602"/>
<use href="#m" x="1106.4" y="1561.5"/>
<use href="#m" x="1106.8" y="1591.7"/>
<use href="#m" x="1108.6" y="1599.4"/>
<use href="#m" x="1107.9" y="1601"/>
<use href="#m" x="1111.2" y="1612.7"/>
<use href="#m" x="1111" y="1606.3"/>
<use href="#m" x="1113.1" y="1596.9"/>
<use href="#m" x="1113.9" y="1596.8"/>
<use href="#m" x="1112.8" y="1602.5"/>
<use href="#m" x="1115.4" y="1587.3"/>
<use href="#m" x="1117.4" y="1593.2"/>
<use href="#m" x="1119.6" y="1604.2"/>
<use href="#m" x="1119.7" y="1616.5"/>
<use href="#m" x="1120.9" y="1592.3"/>
<use href="#m" x="1120.7" y="1593.8"/>
<use href="#m" x="1124.1" y="1596.8"/>
<use href="#m" x="1125.5" y="1610.2"/>
<use href="#m" x="1125.3" y="1594.6"/>
<use href="#m" x="1126.2" y="1612.1"/>
<use href="#m" x="1126.3" y="1584.3"/>
<use href="#m" x="1129.4" y="1593.5"/>
<use href="#m" x="1132" y="1593.6"/>
<use href="#m" x="1131.6" y="1605.2"/>
<use href="#m" x="1133.2" y="1608.4"/>
<use href="#m" x="1133.7" y="1579.3"/>
<use href="#m" x="1133.7" y="1586.4"/>
<use href="#m" x="1136.7" y="1601"/>
<use href="#m" x="1135.8" y="1589.8"/>
<use href="#m" x="1137.7" y="1580.1"/>
<use href="#m" x="1139.3" y="1609.8"/>
<use href="#m" x="1140.9" y="1603.8"/>
<use href="#m" x="1141.7" y="1604"/>
<use href="#m" x="1142.8" y="1593"/>
<use href="#m" x="1143" y="1610.5"/>
<use href="#m" x="1143.8" y="1596.1"/>
<use href="#m" x="1146" y="1611.7"/>
<use href="#m" x="1146.5" y="1588.7"/>
<use href="#m" x="1147.2" y="1589.5"/>
<use href="#m" x="1148.4" y="1601.8"/>
<use href="#m" x="1150.2" y="1591.5"/>
<use href="#m" x="1150.2" y="1607.5"/>
<use href="#m" x="1151.8" y="1602.8"/>
<use href="#m" x="1152.7" y="1589.2"/>
<use href="#m" x="1155.3" y="1600.7"/>
<use href="#m" x="1156.6" y="1595.9"/>
<use href="#m" x="1159.1" y="1610.5"/>
<use href="#m" x="1157.4" y="1592.7"/>
<use href="#m" x="1159.2" y="1594.9"/>
<use href="#m" x="1161.6" y="1613.9"/>
<use href="#m" x="1161.9" y="1625.7"/>
<use href="#m" x="1162.9" y="1622.9"/>
<use href="#m" x="1165.7" y="1600.6"/>
<use href="#m" x="1165.2" y="1602.3"/>
<use href="#m" x="1165.7" y="1617.4"/>
<use href="#m" x="1166.7" y="1598.3"/>
<use href="#m" x="1169.2" y="1588.4"/>
<use href="#m" x="1170.3" y="1600.9"/>
<use href="#m" x="1170.2" y="1604.7"/>
<use href="#m" x="1171.6" y="1589.9"/>
<use href="#m" x="1174" y="1580.4"/>
<use href="#m" x="1175.2" y="1582.7"/>
<use href="#m" x="1175.3" y="1606.8"/>
<use href="#m" x="1177.5" y="1590.4"/>
<use href="#m" x="1178.6" y="1597.4"/>
<use href="#m" x="1177.9" y="1601.5"/>
<use href="#m" x="1180.2" y="1606.1"/>
<use href="#m" x="1181.9" y="1595.1"/>
<use href="#m" x="1182.3" y="1604.6"/>
<use href="#m" x="1182.2" y="1588.7"/>
<use href="#m" x="1184.8" y="1594.7"/>
<use href="#m" x="1186.8" y="1587.1"/>
<use href="#m" x="1188.6" y="1611.9"/>
<use href="#m" x="1186.7" y="1598.6"/>
<use href="#m" x="1191.7" y="1590.5"/>
<use href="#m" x="1189.9" y="1595"/>
<use href="#m" x="1192.7" y="1596.6"/>
<use href="#m" x="1194.1" y="1607.3"/>
<use href="#m" x="1195" y="1581"/>
<use href="#m" x="1195.5" y="1587.5"/>
</g>
<text class="b" font-size="50" x="328" y="62" textLength="165" lengthAdjust="spacingAndGlyphs">430 nm</text>
<text class="b" font-size="50" x="225" y="175" textLength="165" lengthAdjust="spacingAndGlyphs">422 nm</text>
<text font-size="50" x="417" y="330" textLength="121" lengthAdjust="spacingAndGlyphs" stroke="#111" stroke-width="1.2">460 n</text>
<line x1="353" y1="267" x2="694.5" y2="41.9" stroke="#161616" stroke-width="3.3" stroke-dasharray="24 10"/>
<path d="M717,27 L700.5,51 L688.4,32.7 Z" fill="#111"/>
<line x1="429" y1="813" x2="1454" y2="533.1" stroke="#161616" stroke-width="3.3" stroke-dasharray="24 10"/>
<path d="M1480,526 L1456.9,543.7 L1451.1,522.5 Z" fill="#111"/>
<rect x="343.5" y="257.5" width="18.5" height="18.5" rx="5.5" fill="#0a0a0a"/>
<rect x="419.5" y="804" width="18.5" height="18.5" rx="6.5" fill="#0a0a0a"/>
<g stroke="#2a2a2a" fill="none">
<line x1="737.4" y1="9" x2="737.4" y2="557.5" stroke-width="3.2"/>
<line x1="732" y1="556" x2="1475" y2="556" stroke-width="3"/>
<line x1="729" y1="500" x2="737" y2="500" stroke-width="2"/>
<line x1="729" y1="391" x2="737" y2="391" stroke-width="2"/>
<line x1="729" y1="282" x2="737" y2="282" stroke-width="2"/>
<line x1="729" y1="173" x2="737" y2="173" stroke-width="2"/>
<line x1="729" y1="64" x2="737" y2="64" stroke-width="2"/>
<line x1="733" y1="445.5" x2="737" y2="445.5" stroke-width="1.4" stroke="#777"/>
<line x1="733" y1="336.5" x2="737" y2="336.5" stroke-width="1.4" stroke="#777"/>
<line x1="733" y1="227.5" x2="737" y2="227.5" stroke-width="1.4" stroke="#777"/>
<line x1="733" y1="118.5" x2="737" y2="118.5" stroke-width="1.4" stroke="#777"/>
<line x1="860" y1="556" x2="860" y2="564" stroke-width="2"/>
<line x1="1064.4" y1="556" x2="1064.4" y2="564" stroke-width="2"/>
<line x1="1268.8" y1="556" x2="1268.8" y2="564" stroke-width="2"/>
<line x1="1473.2" y1="556" x2="1473.2" y2="564" stroke-width="2"/>
<line x1="757.8" y1="556" x2="757.8" y2="561" stroke-width="1.6"/>
<line x1="962.2" y1="556" x2="962.2" y2="561" stroke-width="1.6"/>
<line x1="1166.6" y1="556" x2="1166.6" y2="561" stroke-width="1.6"/>
<line x1="1371" y1="556" x2="1371" y2="561" stroke-width="1.6"/>
</g>
<text class="it" x="719" y="507" text-anchor="end">0</text>
<text class="it" x="719" y="398" text-anchor="end">100</text>
<text class="it" x="719" y="289" text-anchor="end">200</text>
<text class="it" x="719" y="180" text-anchor="end">300</text>
<text class="it" x="719" y="71" text-anchor="end">400</text>
<text class="it" x="860" y="590" text-anchor="middle">400</text>
<text class="it" x="1064.4" y="590" text-anchor="middle">450</text>
<text class="it" x="1268.8" y="590" text-anchor="middle">500</text>
<text class="it" x="1458" y="590">550</text>
<text class="b" font-size="24" x="1001" y="633" textLength="210" lengthAdjust="spacingAndGlyphs">Wavelength(nm)</text>
<text class="b" font-size="23" transform="translate(667,403) rotate(-90)" textLength="206" lengthAdjust="spacingAndGlyphs">PL intensity (cps)</text>
<g fill="none" stroke="#9c9c9c" stroke-width="1.1" stroke-dasharray="3 2.4">
<path d="M868,493.1 L872,492.6 L876,491.8 L880,490.4 L884,488 L888,484.3 L892,478.9 L896,471.7 L900,462.7 L904,452.3 L908,441.3 L912,431 L916,422.8 L920,417.7 L924,416.6 L928,419.8 L932,426.6 L936,436 L940,446.8 L944,457.6 L948,467.4 L952,475.5 L956,481.8 L960,486.3 L964,489.3 L968,491.2 L972,492.3 L976,492.9 L980,493.2"/>
<path d="M812,490.5 L816,489.9 L820,489.2 L824,488.4 L828,487.4 L832,486.3 L836,485 L840,483.5 L844,481.8 L848,479.9 L852,477.6 L856,475.1 L860,472.3 L864,469.2 L868,465.7 L872,461.8 L876,457.5 L880,452.8 L884,447.6 L888,442 L892,436 L896,429.4 L900,422.5 L904,415 L908,407.1 L912,398.8 L916,390.1 L920,381.1 L924,371.7 L928,362.1 L932,352.2 L936,342.2 L940,332.2 L944,322.1 L948,312.1 L952,302.3 L956,292.7 L960,283.5 L964,274.7 L968,266.4 L972,258.8 L976,251.8 L980,245.6 L984,240.2 L988,235.7 L992,232.1 L996,229.6 L1000,228 L1004,227.5 L1008,228 L1012,229.6 L1016,232.1 L1020,235.7 L1024,240.2 L1028,245.6 L1032,251.8 L1036,258.8 L1040,266.4 L1044,274.7 L1048,283.5 L1052,292.7 L1056,302.3 L1060,312.1 L1064,322.1 L1068,332.2 L1072,342.2 L1076,352.2 L1080,362.1 L1084,371.7 L1088,381.1 L1092,390.1 L1096,398.8 L1100,407.1 L1104,415 L1108,422.5 L1112,429.4 L1116,436 L1120,442 L1124,447.6 L1128,452.8 L1132,457.5 L1136,461.8 L1140,465.7 L1144,469.2 L1148,472.3 L1152,475.1 L1156,477.6 L1160,479.9 L1164,481.8 L1168,483.5 L1172,485 L1176,486.3 L1180,487.4 L1184,488.4 L1188,489.2 L1192,489.9 L1196,490.5 L1200,491.1"/>
<path d="M828,493 L850,485 L880,462 L924,426 L970,388 L1020,347 L1073,307 L1100,295 L1126,290.5 L1155,293 L1180,300"/>
<line x1="833" y1="494" x2="1474" y2="494" stroke="#c4c4c4"/>
</g>
<line x1="947.7" y1="51" x2="947.7" y2="140" stroke="#222" stroke-width="1.5"/><path d="M944,136 L951.4,136 L947.7,151 Z" fill="#222"/>
<line x1="1014" y1="27" x2="1014" y2="50" stroke="#666" stroke-width="1.3"/><path d="M1011,46 L1017,46 L1014,56 Z" fill="#555"/>
<line x1="1130.7" y1="97" x2="1130.7" y2="190" stroke="#666" stroke-width="1.2"/><path d="M1127.7,186 L1133.7,186 L1130.7,198 Z" fill="#444"/>
<text class="it" font-size="18" x="812" y="76" textLength="86" lengthAdjust="spacingAndGlyphs">422 nm</text>
<text class="it" font-size="18" x="1025" y="42" textLength="87" lengthAdjust="spacingAndGlyphs">430 nm</text>
<text class="it" font-size="18" x="1145" y="121" textLength="85" lengthAdjust="spacingAndGlyphs">460 nm</text>
<text class="b" font-size="55" x="1376.5" y="97" textLength="83" lengthAdjust="spacingAndGlyphs">(b)</text>
<g clip-path="url(#ci)" filter="url(#bl)">
<use href="#s" x="736.3" y="496"/>
<use href="#s" x="741.3" y="500.3"/>
<use href="#s" x="741.1" y="496.4"/>
<use href="#s" x="742.4" y="491.4"/>
<use href="#s" x="745.8" y="505"/>
<use href="#s" x="748.8" y="499.1"/>
<use href="#s" x="749.5" y="501.6"/>
<use href="#s" x="749.8" y="494.2"/>
<use href="#s" x="753.4" y="500"/>
<use href="#s" x="756.4" y="500"/>
<use href="#s" x="756.5" y="499.6"/>
<use href="#s" x="758.2" y="495.1"/>
<use href="#s" x="762" y="491.7"/>
<use href="#s" x="763.1" y="494.1"/>
<use href="#s" x="763.9" y="488.6"/>
<use href="#s" x="766.6" y="489.6"/>
<use href="#s" x="768.2" y="494"/>
<use href="#s" x="771.3" y="491"/>
<use href="#s" x="773.1" y="492.8"/>
<use href="#s" x="776.2" y="492.7"/>
<use href="#s" x="777.7" y="497.8"/>
<use href="#s" x="777.4" y="495.8"/>
<use href="#s" x="781.4" y="492.1"/>
<use href="#s" x="783.9" y="495.1"/>
<use href="#s" x="785.5" y="489.6"/>
<use href="#s" x="788" y="490.5"/>
<use href="#s" x="788.5" y="493.5"/>
<use href="#s" x="790" y="487.6"/>
<use href="#s" x="793.9" y="489.9"/>
<use href="#s" x="793.9" y="486.9"/>
<use href="#s" x="794.8" y="490.4"/>
<use href="#s" x="800" y="494.1"/>
<use href="#s" x="800.3" y="487.6"/>
<use href="#s" x="802.7" y="489.9"/>
<use href="#s" x="803.6" y="486.7"/>
<use href="#s" x="805.7" y="485.8"/>
<use href="#s" x="807.8" y="485.3"/>
<use href="#s" x="810.6" y="492.1"/>
<use href="#s" x="813.4" y="494.2"/>
<use href="#s" x="812.7" y="489"/>
<use href="#s" x="817.8" y="485.7"/>
<use href="#s" x="817.8" y="489.1"/>
<use href="#s" x="819.9" y="486.1"/>
<use href="#s" x="823.7" y="486.1"/>
<use href="#s" x="824.9" y="481.8"/>
<use href="#s" x="825.5" y="478.7"/>
<use href="#s" x="830.8" y="476.6"/>
<use href="#s" x="830.1" y="469.5"/>
<use href="#s" x="833.2" y="467.2"/>
<use href="#s" x="835.2" y="460.7"/>
<use href="#s" x="838.4" y="465.6"/>
<use href="#s" x="838.5" y="460.5"/>
<use href="#s" x="842" y="465.4"/>
<use href="#s" x="842.3" y="461"/>
<use href="#s" x="846.1" y="464.9"/>
<use href="#s" x="846.2" y="465.7"/>
<use href="#s" x="848.6" y="456.8"/>
<use href="#s" x="852.9" y="455.4"/>
<use href="#s" x="853.3" y="450.8"/>
<use href="#s" x="855.1" y="451"/>
<use href="#s" x="859.2" y="444.5"/>
<use href="#s" x="859.4" y="439.3"/>
<use href="#s" x="860.2" y="432.6"/>
<use href="#s" x="863.7" y="439.1"/>
<use href="#s" x="863.8" y="424.5"/>
<use href="#s" x="868.1" y="436.3"/>
<use href="#s" x="870.2" y="422.9"/>
<use href="#s" x="870.4" y="407.2"/>
<use href="#s" x="872.4" y="424.7"/>
<use href="#s" x="875.2" y="414.4"/>
<use href="#s" x="877" y="397.4"/>
<use href="#s" x="878" y="397.1"/>
<use href="#s" x="881.6" y="384.2"/>
<use href="#s" x="881" y="372.4"/>
<use href="#s" x="884.6" y="359.5"/>
<use href="#s" x="886.6" y="357"/>
<use href="#s" x="888.7" y="355.6"/>
<use href="#s" x="891.3" y="347.5"/>
<use href="#s" x="891.8" y="343.2"/>
<use href="#s" x="895.6" y="323"/>
<use href="#s" x="896.8" y="319.8"/>
<use href="#s" x="898.3" y="295.4"/>
<use href="#s" x="899.6" y="290.5"/>
<use href="#s" x="901.8" y="273.8"/>
<use href="#s" x="905.4" y="269.5"/>
<use href="#s" x="906" y="272.8"/>
<use href="#s" x="909.1" y="254.9"/>
<use href="#s" x="912.1" y="255.7"/>
<use href="#s" x="914" y="249.7"/>
<use href="#s" x="916.6" y="242.1"/>
<use href="#s" x="916.7" y="240.6"/>
<use href="#s" x="917.9" y="234.2"/>
<use href="#s" x="922" y="228.7"/>
<use href="#s" x="923.3" y="227.7"/>
<use href="#s" x="926.1" y="220.1"/>
<use href="#s" x="927" y="207.5"/>
<use href="#s" x="930.2" y="201.7"/>
<use href="#s" x="931.8" y="202.7"/>
<use href="#s" x="933.7" y="196.7"/>
<use href="#s" x="935.5" y="197.6"/>
<use href="#s" x="937.4" y="201.1"/>
<use href="#s" x="939.2" y="189.3"/>
<use href="#s" x="941.2" y="181.7"/>
<use href="#s" x="944" y="177.6"/>
<use href="#s" x="944.5" y="171.3"/>
<use href="#s" x="948.7" y="167.8"/>
<use href="#s" x="948.9" y="164.1"/>
<use href="#s" x="952" y="163.9"/>
<use href="#s" x="952.9" y="162.5"/>
<use href="#s" x="954.8" y="166.4"/>
<use href="#s" x="959" y="160.1"/>
<use href="#s" x="958.7" y="159.8"/>
<use href="#s" x="959.7" y="154"/>
<use href="#s" x="962.3" y="165.2"/>
<use href="#s" x="964.7" y="158.9"/>
<use href="#s" x="969.2" y="163.2"/>
<use href="#s" x="969.2" y="157.5"/>
<use href="#s" x="971.9" y="159.2"/>
<use href="#s" x="972" y="148.8"/>
<use href="#s" x="975.4" y="148.8"/>
<use href="#s" x="977.7" y="153.3"/>
<use href="#s" x="980.8" y="131.7"/>
<use href="#s" x="980.3" y="137.9"/>
<use href="#s" x="983.6" y="135.7"/>
<use href="#s" x="985.3" y="125.6"/>
<use href="#s" x="986" y="122.6"/>
<use href="#s" x="989" y="120.3"/>
<use href="#s" x="990.7" y="106.9"/>
<use href="#s" x="990.7" y="107"/>
<use href="#s" x="995.6" y="96.5"/>
<use href="#s" x="997.5" y="93.1"/>
<use href="#s" x="998.6" y="89.6"/>
<use href="#s" x="999.7" y="88"/>
<use href="#s" x="1004.5" y="85.5"/>
<use href="#s" x="1005.3" y="84.8"/>
<use href="#s" x="1008" y="75.8"/>
<use href="#s" x="1010.4" y="90.6"/>
<use href="#s" x="1010.5" y="86.3"/>
<use href="#s" x="1013.8" y="83.8"/>
<use href="#s" x="1014.8" y="78.4"/>
<use href="#s" x="1016.9" y="80"/>
<use href="#s" x="1018.9" y="83.3"/>
<use href="#s" x="1021" y="83.1"/>
<use href="#s" x="1024.1" y="74"/>
<use href="#s" x="1025.1" y="85.3"/>
<use href="#s" x="1026.8" y="96.7"/>
<use href="#s" x="1028.7" y="76.9"/>
<use href="#s" x="1031.3" y="91.3"/>
<use href="#s" x="1032.1" y="90.1"/>
<use href="#s" x="1034.5" y="89.5"/>
<use href="#s" x="1036.9" y="98.2"/>
<use href="#s" x="1038.4" y="88.7"/>
<use href="#s" x="1040.9" y="96.7"/>
<use href="#s" x="1042.4" y="104.6"/>
<use href="#s" x="1047" y="99.1"/>
<use href="#s" x="1048.3" y="101"/>
<use href="#s" x="1049.4" y="107.2"/>
<use href="#s" x="1050.9" y="108.5"/>
<use href="#s" x="1055.2" y="121.4"/>
<use href="#s" x="1055.3" y="114.1"/>
<use href="#s" x="1056.9" y="125.9"/>
<use href="#s" x="1059.3" y="120.7"/>
<use href="#s" x="1061.3" y="133.8"/>
<use href="#s" x="1064.4" y="134.6"/>
<use href="#s" x="1065" y="127.8"/>
<use href="#s" x="1069.1" y="143.8"/>
<use href="#s" x="1068.1" y="143.2"/>
<use href="#s" x="1071.7" y="150"/>
<use href="#s" x="1072" y="163"/>
<use href="#s" x="1076.8" y="154.9"/>
<use href="#s" x="1076.7" y="159.2"/>
<use href="#s" x="1078.9" y="174.5"/>
<use href="#s" x="1081.9" y="172.2"/>
<use href="#s" x="1084.3" y="182.1"/>
<use href="#s" x="1083.9" y="180"/>
<use href="#s" x="1086.7" y="178"/>
<use href="#s" x="1087.6" y="185.1"/>
<use href="#s" x="1091.1" y="194.4"/>
<use href="#s" x="1092.9" y="196.5"/>
<use href="#s" x="1094.7" y="194.9"/>
<use href="#s" x="1096.3" y="196.8"/>
<use href="#s" x="1098.6" y="197.9"/>
<use href="#s" x="1100.3" y="197.5"/>
<use href="#s" x="1103.5" y="210.6"/>
<use href="#s" x="1106.5" y="203.7"/>
<use href="#s" x="1105.1" y="200.3"/>
<use href="#s" x="1108.9" y="205"/>
<use href="#s" x="1110.6" y="212"/>
<use href="#s" x="1113.5" y="213"/>
<use href="#s" x="1114" y="210.8"/>
<use href="#s" x="1116.9" y="209.8"/>
<use href="#s" x="1118" y="214.3"/>
<use href="#s" x="1121.7" y="208"/>
<use href="#s" x="1123.1" y="211"/>
<use href="#s" x="1124.8" y="221.9"/>
<use href="#s" x="1127.4" y="217.8"/>
<use href="#s" x="1128.8" y="223.5"/>
<use href="#s" x="1129.4" y="229.2"/>
<use href="#s" x="1133.6" y="228.4"/>
<use href="#s" x="1135.3" y="227.5"/>
<use href="#s" x="1136.8" y="238.8"/>
<use href="#s" x="1140" y="234.1"/>
<use href="#s" x="1142.2" y="231.4"/>
<use href="#s" x="1141.9" y="238.3"/>
<use href="#s" x="1144.2" y="238.8"/>
<use href="#s" x="1148.5" y="235.1"/>
<use href="#s" x="1150.4" y="241.3"/>
<use href="#s" x="1150.3" y="242.3"/>
<use href="#s" x="1151.8" y="236.1"/>
<use href="#s" x="1154.4" y="247.3"/>
<use href="#s" x="1156.5" y="249.9"/>
<use href="#s" x="1157.4" y="252.2"/>
<use href="#s" x="1161" y="249.9"/>
<use href="#s" x="1161.7" y="258.8"/>
<use href="#s" x="1163.8" y="263.3"/>
<use href="#s" x="1167.9" y="267.1"/>
<use href="#s" x="1168.3" y="264.8"/>
<use href="#s" x="1170.9" y="276.1"/>
<use href="#s" x="1173.6" y="271"/>
<use href="#s" x="1175.8" y="278.8"/>
<use href="#s" x="1176.7" y="289"/>
<use href="#s" x="1179" y="283.2"/>
<use href="#s" x="1180.2" y="287.5"/>
<use href="#s" x="1184.7" y="298.4"/>
<use href="#s" x="1185.6" y="295.5"/>
<use href="#s" x="1185.9" y="299.6"/>
<use href="#s" x="1189" y="305.6"/>
<use href="#s" x="1191.7" y="313.1"/>
<use href="#s" x="1193.5" y="302"/>
<use href="#s" x="1196.8" y="311.9"/>
<use href="#s" x="1198.4" y="314.8"/>
<use href="#s" x="1198.5" y="318.2"/>
<use href="#s" x="1200.9" y="322.9"/>
<use href="#s" x="1201.7" y="326.7"/>
<use href="#s" x="1205.2" y="335.5"/>
<use href="#s" x="1207.2" y="333.2"/>
<use href="#s" x="1211.7" y="340.2"/>
<use href="#s" x="1211.1" y="343.9"/>
<use href="#s" x="1210.9" y="341.2"/>
<use href="#s" x="1214.3" y="347.5"/>
<use href="#s" x="1217.1" y="356.7"/>
<use href="#s" x="1217.7" y="353.2"/>
<use href="#s" x="1220.1" y="351.4"/>
<use href="#s" x="1222.6" y="356.6"/>
<use href="#s" x="1225.3" y="355.4"/>
<use href="#s" x="1226.8" y="363.4"/>
<use href="#s" x="1228.1" y="368.7"/>
<use href="#s" x="1231.8" y="363.7"/>
<use href="#s" x="1232.5" y="369.1"/>
<use href="#s" x="1234.5" y="376.4"/>
<use href="#s" x="1235.6" y="370.6"/>
<use href="#s" x="1238.2" y="375.1"/>
<use href="#s" x="1241.7" y="371"/>
<use href="#s" x="1241.4" y="373.4"/>
<use href="#s" x="1244.9" y="376.1"/>
<use href="#s" x="1247.7" y="389.4"/>
<use href="#s" x="1248.6" y="379.5"/>
<use href="#s" x="1251.2" y="380.3"/>
<use href="#s" x="1251.9" y="381.6"/>
<use href="#s" x="1256.3" y="384.8"/>
<use href="#s" x="1258.1" y="389.8"/>
<use href="#s" x="1259.2" y="389.1"/>
<use href="#s" x="1259.2" y="398.6"/>
<use href="#s" x="1262" y="391.7"/>
<use href="#s" x="1266" y="398.3"/>
<use href="#s" x="1268.7" y="394.3"/>
<use href="#s" x="1269.3" y="396.9"/>
<use href="#s" x="1272.2" y="389"/>
<use href="#s" x="1272.4" y="395.9"/>
<use href="#s" x="1274.8" y="397.4"/>
<use href="#s" x="1277" y="397.7"/>
<use href="#s" x="1279.4" y="390.5"/>
<use href="#s" x="1279.5" y="405"/>
<use href="#s" x="1283.9" y="400.6"/>
<use href="#s" x="1286.3" y="401.5"/>
<use href="#s" x="1285.9" y="403.5"/>
<use href="#s" x="1287.6" y="404.8"/>
<use href="#s" x="1291.4" y="408.8"/>
<use href="#s" x="1292.3" y="402.6"/>
<use href="#s" x="1292.6" y="405.2"/>
<use href="#s" x="1297.8" y="411.8"/>
<use href="#s" x="1299.2" y="412.3"/>
<use href="#s" x="1300.5" y="411.2"/>
<use href="#s" x="1305.1" y="411.5"/>
<use href="#s" x="1305.1" y="411.6"/>
<use href="#s" x="1306.2" y="416.2"/>
<use href="#s" x="1309.1" y="422.8"/>
<use href="#s" x="1310" y="414.2"/>
<use href="#s" x="1312.2" y="426.7"/>
<use href="#s" x="1315.4" y="425"/>
<use href="#s" x="1316.4" y="420.5"/>
<use href="#s" x="1318.5" y="427.2"/>
<use href="#s" x="1322.7" y="418.6"/>
<use href="#s" x="1323.9" y="418.7"/>
<use href="#s" x="1325.8" y="421.9"/>
<use href="#s" x="1327.5" y="427"/>
<use href="#s" x="1329.5" y="428.6"/>
<use href="#s" x="1332.5" y="429.1"/>
<use href="#s" x="1333" y="433"/>
<use href="#s" x="1336.9" y="424.5"/>
<use href="#s" x="1336" y="437.3"/>
<use href="#s" x="1338.7" y="430.1"/>
<use href="#s" x="1339.6" y="434.6"/>
<use href="#s" x="1342.7" y="436.6"/>
<use href="#s" x="1345.5" y="434.2"/>
<use href="#s" x="1348.5" y="434.2"/>
<use href="#s" x="1348.3" y="436.7"/>
<use href="#s" x="1351" y="442"/>
<use href="#s" x="1352.6" y="445.6"/>
<use href="#s" x="1354.3" y="446.4"/>
<use href="#s" x="1355.8" y="440.5"/>
<use href="#s" x="1359.1" y="442.3"/>
<use href="#s" x="1359.3" y="442.6"/>
<use href="#s" x="1363.1" y="449.6"/>
<use href="#s" x="1365" y="439.6"/>
<use href="#s" x="1366.3" y="454.9"/>
<use href="#s" x="1368" y="448.1"/>
<use href="#s" x="1369.6" y="447.6"/>
<use href="#s" x="1374.9" y="453.3"/>
<use href="#s" x="1373.7" y="457.2"/>
<use href="#s" x="1378.6" y="455"/>
<use href="#s" x="1379.6" y="458.9"/>
<use href="#s" x="1380.6" y="455.7"/>
<use href="#s" x="1381.8" y="461.3"/>
<use href="#s" x="1386" y="462.2"/>
<use href="#s" x="1388.7" y="457.1"/>
<use href="#s" x="1388.1" y="464.7"/>
<use href="#s" x="1390.7" y="459.9"/>
<use href="#s" x="1394.1" y="460.4"/>
<use href="#s" x="1395.3" y="456.5"/>
<use href="#s" x="1399" y="459.9"/>
<use href="#s" x="1398.4" y="465.2"/>
<use href="#s" x="1401.5" y="456.6"/>
<use href="#s" x="1401.7" y="465.8"/>
<use href="#s" x="1407.1" y="465.1"/>
<use href="#s" x="1406.3" y="465.4"/>
<use href="#s" x="1406.8" y="455"/>
<use href="#s" x="1410.9" y="464.9"/>
<use href="#s" x="1412.9" y="468.8"/>
<use href="#s" x="1416.9" y="463.2"/>
<use href="#s" x="1416.7" y="467.5"/>
<use href="#s" x="1419" y="457.2"/>
<use href="#s" x="1421.6" y="471.2"/>
<use href="#s" x="1424.6" y="465.8"/>
<use href="#s" x="1424.9" y="473"/>
<use href="#s" x="1428" y="461.5"/>
<use href="#s" x="1429.5" y="473.1"/>
<use href="#s" x="1430.7" y="469.5"/>
<use href="#s" x="1433.1" y="474.6"/>
<use href="#s" x="1435" y="467.4"/>
<use href="#s" x="1436.1" y="469.2"/>
<use href="#s" x="1440.2" y="482.3"/>
<use href="#s" x="1439.6" y="469.2"/>
<use href="#s" x="1444.2" y="470.2"/>
<use href="#s" x="1446" y="472.6"/>
<use href="#s" x="1446.9" y="469.6"/>
<use href="#s" x="1448.2" y="479.5"/>
<use href="#s" x="1450.8" y="481.9"/>
<use href="#s" x="1453.5" y="471.4"/>
<use href="#s" x="1455.7" y="467"/>
<use href="#s" x="1457.3" y="479.9"/>
<use href="#s" x="1460" y="479.8"/>
<use href="#s" x="1460.4" y="478.7"/>
<use href="#s" x="1463.2" y="480.3"/>
<use href="#s" x="1463.4" y="471.5"/>
<use href="#s" x="1467.8" y="474.8"/>
<use href="#s" x="1469.2" y="469.6"/>
<use href="#s" x="1470.6" y="469.5"/>
<use href="#s" x="1474.2" y="480.2"/>
</g>
<path d="M980,735.5 C1020.7,900.1 1050.8,961 1077,961 C1104.5,961 1136.2,900.1 1179,735.5 Z" fill="#e93a31" stroke="#5a1410" stroke-width="1.2"/>
<line x1="991" y1="778.5" x2="1167.4" y2="778.5" stroke="#4a120e" stroke-width="1.4"/>
<line x1="1001.7" y1="817" x2="1156.2" y2="817" stroke="#4a120e" stroke-width="1.4"/>
<line x1="1013.5" y1="855.5" x2="1143.7" y2="855.5" stroke="#4a120e" stroke-width="1.4"/>
<line x1="1026.5" y1="892" x2="1130.1" y2="892" stroke="#4a120e" stroke-width="1.4"/>
<line x1="1044.9" y1="932" x2="1110.7" y2="932" stroke="#4a120e" stroke-width="1.4"/>
<path d="M1153,819 C1192.9,984.0 1222.3,1045 1248,1045 C1275.8,1045 1307.7,984.0 1351,819 Z" fill="#e93a31" stroke="#5a1410" stroke-width="1.2"/>
<line x1="1163.5" y1="861" x2="1339.6" y2="861" stroke="#4a120e" stroke-width="1.4"/>
<line x1="1173.9" y1="899.5" x2="1328.3" y2="899.5" stroke="#4a120e" stroke-width="1.4"/>
<line x1="1185.4" y1="938" x2="1315.8" y2="938" stroke="#4a120e" stroke-width="1.4"/>
<line x1="1198.8" y1="976.5" x2="1301.4" y2="976.5" stroke="#4a120e" stroke-width="1.4"/>
<line x1="1217.8" y1="1018" x2="1280.8" y2="1018" stroke="#4a120e" stroke-width="1.4"/>
<path d="M984.8,1307 C1026.5,1471.2 1057.2,1532 1084,1532 C1110.7,1532 1141.4,1471.2 1183,1307 Z" fill="#e93a31" stroke="#5a1410" stroke-width="1.2"/>
<line x1="995.1" y1="1346.5" x2="1172.7" y2="1346.5" stroke="#4a120e" stroke-width="1.4"/>
<line x1="1006.6" y1="1387" x2="1161.2" y2="1387" stroke="#4a120e" stroke-width="1.4"/>
<line x1="1018.7" y1="1425.5" x2="1149.2" y2="1425.5" stroke="#4a120e" stroke-width="1.4"/>
<line x1="1031.9" y1="1462" x2="1136" y2="1462" stroke="#4a120e" stroke-width="1.4"/>
<line x1="1052.1" y1="1504.5" x2="1115.9" y2="1504.5" stroke="#4a120e" stroke-width="1.4"/>
<rect x="819.5" y="747.5" width="126" height="58.5" fill="#fff"/>
<rect x="853.5" y="1328" width="125" height="58" fill="#fff"/>
<text class="b" font-size="33" x="836" y="794" textLength="50" lengthAdjust="spacingAndGlyphs">1 B</text><text class="b" font-size="22" x="887" y="802" textLength="17" lengthAdjust="spacingAndGlyphs">g</text>
<text class="b" font-size="33" x="869" y="1372" textLength="57" lengthAdjust="spacingAndGlyphs">1 A</text><text class="b" font-size="22" x="927" y="1381" textLength="18" lengthAdjust="spacingAndGlyphs">g</text>
<text class="b" font-size="33" x="1394" y="830" textLength="57" lengthAdjust="spacingAndGlyphs">2 A</text><text class="b" font-size="22" x="1452" y="840" textLength="18" lengthAdjust="spacingAndGlyphs">g</text>
<g fill="none" stroke="#333" stroke-width="1.35" stroke-linejoin="round">
<path d="M1100,852 L1095.1,853.2 L1090.6,854.4 L1087,855.6 L1085.3,857 L1087.1,858.7 L1090.6,860.5 L1094.9,862.3 L1099.6,864.2 L1104.3,866 L1108.5,867.8 L1111.7,869.6 L1112.9,871.2 L1110.6,872.6 L1106.8,873.8 L1102.2,875 L1097.2,876.2 L1092.4,877.4 L1088.1,878.6 L1084.7,879.8 L1083.7,881.3 L1086,883 L1089.7,884.8 L1094.1,886.6 L1098.9,888.5 L1103.5,890.3 L1107.5,892.2 L1110.5,893.9 L1110.9,895.4 L1108.2,896.8 L1104.2,898 L1099.5,899.2 L1094.5,900.4 L1089.7,901.5 L1085.5,902.8 L1082.5,904.1 L1082.2,905.6 L1085,907.3 L1088.8,909.1 L1093.4,910.9 L1098.1,912.8 L1102.6,914.7 L1106.5,916.5 L1109.2,918.2 L1108.8,919.7 L1105.7,921 L1101.5,922.2 L1096.7,923.4 L1091.8,924.5 L1087.1,925.7 L1083.1,927 L1080.4,928.3 L1080.9,929.8 L1084,931.6 L1088,933.4 L1092.6,935.3 L1097.4,937.1 L1101.8,939 L1105.5,940.8 L1107.7,942.4 L1106.6,943.9 L1103.2,945.2 L1098.8,946.4 L1094,947.5 L1089,948.7"/>
<path d="M1094,949 L1089.2,950.8 L1084.8,952.5 L1081.2,954.3 L1079.4,956.2 L1081.1,958.2 L1084.6,960.2 L1088.8,962.2 L1093.5,964.3 L1098.2,966.4 L1102.5,968.4 L1105.9,970.5 L1107.6,972.4 L1105.7,974.3 L1102.2,976.1 L1097.8,977.9 L1092.9,979.6 L1088.1,981.4 L1083.7,983.1 L1080.2,984.9 L1078.4,986.8 L1080.2,988.8 L1083.6,990.8 L1087.9,992.9 L1092.6,994.9 L1097.3,997 L1101.6,999 L1105,1001.1 L1106.6,1003 L1104.7,1004.9 L1101.1,1006.7 L1096.7,1008.5 L1091.9,1010.2 L1087,1012 L1082.7,1013.7 L1079.2,1015.5 L1077.4,1017.4 L1079.2,1019.4 L1082.7,1021.4 L1087,1023.5 L1091.7,1025.5 L1096.4,1027.6 L1100.6,1029.7 L1104,1031.7 L1105.6,1033.6 L1103.6,1035.5 L1100,1037.3 L1095.6,1039.1 L1090.8,1040.8 L1086,1042.6 L1081.6,1044.4 L1078.1,1046.2 L1076.4,1048 L1078.3,1050 L1081.7,1052 L1086,1054.1 L1090.7,1056.1 L1095.4,1058.2 L1099.7,1060.3 L1103,1062.3 L1104.6,1064.3 L1102.6,1066.1 L1099,1067.9 L1094.6,1069.7 L1089.7,1071.4 L1084.9,1073.2 L1080.6,1075 L1077.1,1076.8 L1075.5,1078.6 L1077.3,1080.6 L1080.8,1082.6 L1085.1,1084.7 L1089.8,1086.8 L1094.5,1088.8 L1098.7,1090.9 L1102.1,1092.9 L1103.5,1094.9 L1101.6,1096.7 L1097.9,1098.5 L1093.5,1100.3 L1088.7,1102 L1083.9,1103.8 L1079.5,1105.6 L1076,1107.4 L1074.5,1109.2 L1076.3,1111.2 L1079.9,1113.2 L1084.2,1115.3 L1088.9,1117.4 L1093.6,1119.4 L1097.8,1121.5 L1101.1,1123.5 L1102.5,1125.5 L1100.5,1127.3 L1096.9,1129.1 L1092.4,1130.9 L1087.6,1132.7 L1082.8,1134.4 L1078.4,1136.2 L1075,1138 L1073.5,1139.9 L1075.4,1141.8 L1078.9,1143.9 L1083.2,1145.9 L1087.9,1148 L1092.6,1150.1 L1096.8,1152.1 L1100.2,1154.1 L1101.5,1156.1 L1099.5,1157.9 L1095.8,1159.7 L1091.4,1161.5 L1086.5,1163.3 L1081.7,1165 L1077.4,1166.8 L1074,1168.6 L1072.5,1170.5 L1074.4,1172.4 L1078,1174.5 L1082.3,1176.5 L1087,1178.6 L1091.7,1180.7 L1095.9,1182.7 L1099.2,1184.7 L1100.5,1186.7 L1098.4,1188.5 L1094.8,1190.3 L1090.3,1192.1 L1085.4,1193.9 L1080.7,1195.6 L1076.3,1197.4 L1072.9,1199.2 L1071.5,1201.1 L1073.5,1203.1 L1077,1205.1 L1081.4,1207.1 L1086.1,1209.2 L1090.8,1211.3 L1094.9,1213.3 L1098.2,1215.4 L1099.5,1217.3 L1097.4,1219.2 L1093.7,1221 L1089.2,1222.7 L1084.4,1224.5 L1079.6,1226.2 L1075.3,1228 L1071.9,1229.8 L1070.5,1231.7 L1072.5,1233.7 L1076.1,1235.7 L1080.4,1237.8 L1085.2,1239.8 L1089.8,1241.9 L1094,1243.9 L1097.3,1246 L1098.5,1247.9 L1096.3,1249.8 L1092.6,1251.6 L1088.2,1253.3 L1083.3,1255.1 L1078.5,1256.8 L1074.2,1258.6 L1070.8,1260.4 L1069.5,1262.3 L1071.6,1264.3 L1075.1,1266.3 L1079.5,1268.4 L1084.2,1270.4 L1088.9,1272.5 L1093.1,1274.6 L1096.3,1276.6 L1097.5,1278.5 L1095.3,1280.4 L1091.6,1282.2 L1087.1,1283.9 L1082.2,1285.7 L1077.5,1287.5 L1073.2,1289.2 L1069.8,1291 L1068.5,1292.9 L1070.6,1294.9 L1074.2,1296.9 L1078.6,1299 L1083.3,1301.1 L1087.9,1303.1 L1092.1,1305.2 L1095.3,1307.2 L1096.5,1309.1 L1094.2,1311 L1090.5,1312.8 L1086,1314.5 L1081.2,1316.3 L1076.4,1318.1 L1072.1,1319.8 L1068.8,1321.6 L1067.5,1323.5 L1069.6,1325.5 L1073.3,1327.5 L1077.6,1329.6 L1082.4,1331.7 L1087,1333.7 L1091.2,1335.8 L1094.4,1337.8 L1095.5,1339.8 L1093.2,1341.6 L1089.5,1343.4 L1085,1345.2 L1080.1,1346.9 L1075.3,1348.7 L1071.1,1350.5 L1067.7,1352.3 L1066.5,1354.1 L1068.7,1356.1 L1072.3,1358.2 L1076.7,1360.2 L1081.4,1362.3 L1086.1,1364.3 L1090.2,1366.4 L1093.4,1368.4 L1094.5,1370.4 L1092.2,1372.2 L1088.4,1374 L1083.9,1375.8 L1079,1377.5 L1074.3,1379.3 L1070,1381.1 L1066.7,1382.9 L1065.5,1384.7 L1067.7,1386.7 L1071.4,1388.8 L1075.8,1390.8 L1080.5,1392.9 L1085.1,1395 L1089.3,1397 L1092.5,1399 L1093.5,1401 L1091.1,1402.8 L1087.3,1404.6 L1082.8,1406.4 L1078,1408.1 L1073.2,1409.9 L1068.9,1411.7 L1065.6,1413.5 L1064.5,1415.4 L1066.8,1417.3 L1070.4,1419.4 L1074.8,1421.4 L1079.6,1423.5 L1084.2,1425.6 L1088.3,1427.6 L1091.5,1429.6 L1092.4,1431.6 L1090.1,1433.4 L1086.3,1435.2 L1081.7,1437 L1076.9,1438.7 L1072.1,1440.5 L1067.9,1442.3 L1064.6,1444.1 L1063.6,1446 L1065.8,1448 L1069.5,1450 L1073.9,1452.1 L1078.6,1454.1 L1083.3,1456.2 L1087.4,1458.2 L1090.5,1460.3 L1091.4,1462.2 L1089,1464 L1085.2,1465.8 L1080.7,1467.6 L1075.8,1469.4 L1071.1,1471.1 L1066.8,1472.9 L1063.6,1474.7 L1062.6,1476.6 L1064.9,1478.6 L1068.6,1480.6 L1073,1482.7 L1077.7,1484.7 L1082.3,1486.8 L1086.4,1488.8 L1089.6,1490.9 L1090.4,1492.8 L1088,1494.6 L1084.2,1496.4 L1079.6,1498.2 L1074.8,1500"/>
<path d="M1232,1042 L1227.9,1042.5 L1224,1043.2 L1220.9,1044 L1219.1,1045.2 L1220,1047.3 L1222.2,1049.7 L1225.1,1052.3 L1228.3,1055 L1231.4,1057.7 L1234.3,1060.3 L1236.4,1062.7 L1237.2,1064.7 L1235.3,1065.9 L1232.1,1066.8 L1228.3,1067.4 L1224.1,1067.9 L1220,1068.5 L1216.2,1069.1 L1213.1,1070 L1211.4,1071.2 L1212.4,1073.3 L1214.7,1075.7 L1217.6,1078.3 L1220.8,1081.1 L1223.9,1083.8 L1226.8,1086.4 L1228.9,1088.8 L1229.5,1090.7 L1227.5,1091.9 L1224.2,1092.7 L1220.4,1093.3 L1216.2,1093.8 L1212.1,1094.4 L1208.4,1095 L1205.3,1095.9 L1203.8,1097.2 L1204.9,1099.3 L1207.2,1101.8 L1210.1,1104.4 L1213.3,1107.1 L1216.4,1109.8 L1219.2,1112.4 L1221.3,1114.8 L1221.8,1116.7 L1219.7,1117.8 L1216.4,1118.6 L1212.5,1119.2 L1208.3,1119.8 L1204.2,1120.3 L1200.5,1121 L1197.5,1121.8 L1196.1,1123.2 L1197.3,1125.3 L1199.7,1127.8 L1202.6,1130.4 L1205.8,1133.1 L1208.9,1135.8 L1211.7,1138.4 L1213.7,1140.8 L1214.1,1142.6 L1211.9,1143.8 L1208.5,1144.5 L1204.6,1145.1 L1200.5,1145.7 L1196.4,1146.2 L1192.7,1146.9 L1189.7,1147.8 L1188.4,1149.2 L1189.8,1151.3 L1192.1,1153.8 L1195.1,1156.5 L1198.3,1159.2 L1201.4,1161.9 L1204.2,1164.4 L1206.2,1166.8 L1206.4,1168.6 L1204.1,1169.7 L1200.7,1170.5 L1196.7,1171.1 L1192.6,1171.6 L1188.5,1172.2 L1184.8,1172.8 L1181.9,1173.7 L1180.8,1175.2 L1182.2,1177.4 L1184.6,1179.8 L1187.6,1182.5 L1190.8,1185.2 L1193.9,1187.9 L1196.6,1190.5 L1198.6,1192.8 L1198.6,1194.6 L1196.2,1195.6 L1192.8,1196.4 L1188.9,1197 L1184.7,1197.5 L1180.6,1198.1 L1177,1198.8 L1174.1,1199.7 L1173.2,1201.2 L1174.7,1203.4 L1177.1,1205.9 L1180.1,1208.5 L1183.3,1211.2 L1186.4,1213.9 L1189.1,1216.5 L1191,1218.8 L1190.9,1220.5 L1188.4,1221.6 L1185,1222.3 L1181,1222.9 L1176.8,1223.4 L1172.8,1224 L1169.1,1224.7 L1166.4,1225.6 L1165.6,1227.2 L1167.1,1229.4 L1169.6,1231.9 L1172.6,1234.6 L1175.9,1237.3 L1178.9,1240 L1181.6,1242.5 L1183.4,1244.8 L1183.1,1246.5 L1180.6,1247.5 L1177.1,1248.2 L1173.1,1248.8 L1168.9,1249.4 L1164.9,1249.9 L1161.3,1250.6 L1158.6,1251.6 L1157.9,1253.2 L1159.6,1255.4 L1162.1,1257.9 L1165.2,1260.6 L1168.4,1263.3 L1171.4,1266 L1174,1268.5 L1175.8,1270.8 L1175.4,1272.5 L1172.8,1273.4 L1169.2,1274.2 L1165.2,1274.7 L1161,1275.3 L1157,1275.9 L1153.5,1276.6 L1150.8,1277.5 L1150.3,1279.2 L1152,1281.4 L1154.6,1284 L1157.7,1286.6 L1160.9,1289.4 L1163.9,1292 L1166.5,1294.5 L1168.2,1296.8 L1167.6,1298.4 L1164.9,1299.4 L1161.4,1300.1 L1157.3,1300.7 L1153.2,1301.2 L1149.2,1301.8 L1145.7,1302.5 L1143.1,1303.5 L1142.7,1305.2 L1144.5,1307.5 L1147.1,1310 L1150.2,1312.7 L1153.4,1315.4 L1156.4,1318.1 L1159,1320.6 L1160.6,1322.8 L1159.9,1324.4 L1157.1,1325.3 L1153.5,1326 L1149.5,1326.6 L1145.3,1327.1 L1141.3,1327.7 L1137.8,1328.4 L1135.3,1329.5 L1135.1,1331.2 L1137,1333.5 L1139.6,1336 L1142.7,1338.7 L1145.9,1341.4 L1148.9,1344.1 L1151.4,1346.6 L1152.9,1348.8 L1152.1,1350.3 L1149.3,1351.2 L1145.6,1351.9 L1141.6,1352.5 L1137.4,1353 L1133.4,1353.6 L1130,1354.4 L1127.6,1355.4 L1127.5,1357.2 L1129.4,1359.5 L1132.1,1362.1 L1135.2,1364.7 L1138.4,1367.5 L1141.4,1370.1 L1143.9,1372.6 L1145.3,1374.8 L1144.3,1376.3 L1141.4,1377.2 L1137.8,1377.9 L1133.7,1378.4 L1129.5,1379 L1125.6,1379.6 L1122.2,1380.3 L1119.8,1381.4 L1120,1383.2 L1121.9,1385.5 L1124.6,1388.1 L1127.7,1390.8 L1130.9,1393.5 L1133.9,1396.1 L1136.3,1398.6 L1137.7,1400.8 L1136.5,1402.2 L1133.6,1403.1 L1129.9,1403.8 L1125.8,1404.3 L1121.6,1404.9 L1117.7,1405.5 L1114.4,1406.3 L1112.1,1407.3 L1112.4,1409.2 L1114.4,1411.6 L1117.1,1414.1 L1120.2,1416.8 L1123.4,1419.5 L1126.4,1422.2 L1128.8,1424.6 L1130,1426.8 L1128.7,1428.2 L1125.7,1429 L1122,1429.7 L1117.9,1430.3 L1113.8,1430.8 L1109.9,1431.4 L1106.5,1432.2 L1104.4,1433.3 L1104.8,1435.2 L1106.8,1437.6 L1109.6,1440.2 L1112.8,1442.9 L1116,1445.6 L1118.9,1448.2 L1121.2,1450.7 L1122.4,1452.8 L1120.9,1454.1 L1117.9,1455 L1114.2,1455.6 L1110,1456.2 L1105.9,1456.7 L1102,1457.3 L1098.7,1458.1 L1096.7,1459.3 L1097.2,1461.2 L1099.3,1463.6 L1102.1,1466.2 L1105.3,1468.9 L1108.5,1471.6 L1111.4,1474.2 L1113.7,1476.7 L1114.7,1478.8 L1113.1,1480.1 L1110.1,1480.9 L1106.3,1481.6 L1102.2,1482.1 L1098,1482.6 L1094.1,1483.3 L1090.9,1484.1 L1088.9,1485.3 L1089.6,1487.2 L1091.8,1489.6 L1094.6,1492.2 L1097.8,1494.9"/>
<path d="M1119,857.5 L1120.4,861 L1121.8,864.2 L1123.1,866.7 L1124.5,868 L1125.9,866.7 L1127.3,864.1 L1128.7,860.9 L1130,857.4 L1131.4,853.9 L1132.8,850.8 L1134.2,848.2 L1135.5,847 L1136.9,848.4 L1138.3,850.9 L1139.7,854.2 L1141.1,857.7 L1142.4,861.1 L1143.8,864.3 L1145.2,866.8 L1146.6,868 L1148,866.6 L1149.3,864 L1150.7,860.8 L1152.1,857.3 L1153.5,853.8 L1154.8,850.6 L1156.2,848.1 L1157.6,847 L1159,848.4 L1160.4,851.1 L1161.7,854.3 L1163.1,857.8 L1164.5,861.3 L1165.9,864.4 L1167.3,866.9 L1168.6,868 L1170,866.5 L1171.4,863.9 L1172.8,860.6 L1174.2,857.1 L1175.5,853.6 L1176.9,850.5 L1178.3,848 L1179.7,847 L1181,848.5 L1182.4,851.2 L1183.8,854.5 L1185.2,858 L1186.6,861.4 L1187.9,864.6 L1189.3,867 L1190.7,868 L1192.1,866.4 L1193.5,863.7 L1194.8,860.5 L1196.2,857 L1197.6,853.5 L1199,850.4 L1200.3,847.9 L1201.7,847 L1203.1,848.6 L1204.5,851.3 L1205.9,854.6 L1207.2,858.1 L1208.6,861.6 L1210,864.7"/>
<path d="M1115,899 L1116.4,902.5 L1117.7,905.7 L1119.1,908.3 L1120.5,909.5 L1121.8,908.2 L1123.2,905.7 L1124.6,902.5 L1126,899 L1127.4,895.5 L1128.8,892.3 L1130.2,889.8 L1131.6,888.6 L1133,890 L1134.3,892.6 L1135.7,895.8 L1137.1,899.3 L1138.4,902.8 L1139.8,905.9 L1141.1,908.5 L1142.5,909.6 L1143.9,908.3 L1145.3,905.7 L1146.7,902.4 L1148.1,898.9 L1149.5,895.5 L1150.9,892.3 L1152.3,889.8 L1153.7,888.7 L1155,890.2 L1156.4,892.8 L1157.8,896 L1159.1,899.6 L1160.5,903 L1161.8,906.2 L1163.2,908.7 L1164.6,909.8 L1166,908.3 L1167.4,905.6 L1168.8,902.4 L1170.2,898.9 L1171.6,895.4 L1172.9,892.3 L1174.3,889.9 L1175.7,888.9 L1177.1,890.4 L1178.5,893.1 L1179.8,896.3 L1181.2,899.8 L1182.5,903.3 L1183.9,906.4 L1185.3,908.9 L1186.6,909.9 L1188,908.3 L1189.4,905.6 L1190.8,902.4 L1192.2,898.9 L1193.6,895.4 L1195,892.3 L1196.4,889.9 L1197.8,889 L1199.2,890.6 L1200.5,893.3 L1201.9,896.6 L1203.2,900.1 L1204.6,903.6 L1206,906.7"/>
</g>
<line x1="1060" y1="858" x2="1060" y2="1506" stroke="#050505" stroke-width="3.8"/>
<path d="M1056,864 L1064,864 L1060,853 Z" fill="#0a0a0a"/>
<circle cx="1100" cy="852" r="3.4" fill="#0a0a0a"/>
<circle cx="1119" cy="857.5" r="3.4" fill="#0a0a0a"/>
<circle cx="1115" cy="898" r="3.4" fill="#0a0a0a"/>
<circle cx="1210" cy="857.5" r="3.4" fill="#0a0a0a"/>
<circle cx="1206.5" cy="899.5" r="3.4" fill="#0a0a0a"/>
<circle cx="1093" cy="949" r="3.4" fill="#0a0a0a"/>
<circle cx="1243.5" cy="1017.5" r="3.4" fill="#0a0a0a"/>
<circle cx="1222" cy="1096" r="3.4" fill="#0a0a0a"/>
<circle cx="1074" cy="1500.5" r="3.4" fill="#0a0a0a"/>
<circle cx="1096.5" cy="1495" r="3.4" fill="#0a0a0a"/>
<text class="b" font-size="35" x="1156" y="830" textLength="155" lengthAdjust="spacingAndGlyphs">Nrv trans</text>
<text class="b" font-size="36" x="996" y="1179.5" textLength="44" lengthAdjust="spacingAndGlyphs">hv</text>
<text class="b" font-size="50" x="1347.5" y="1232" textLength="82" lengthAdjust="spacingAndGlyphs">(c)</text>
</svg></body></html>
